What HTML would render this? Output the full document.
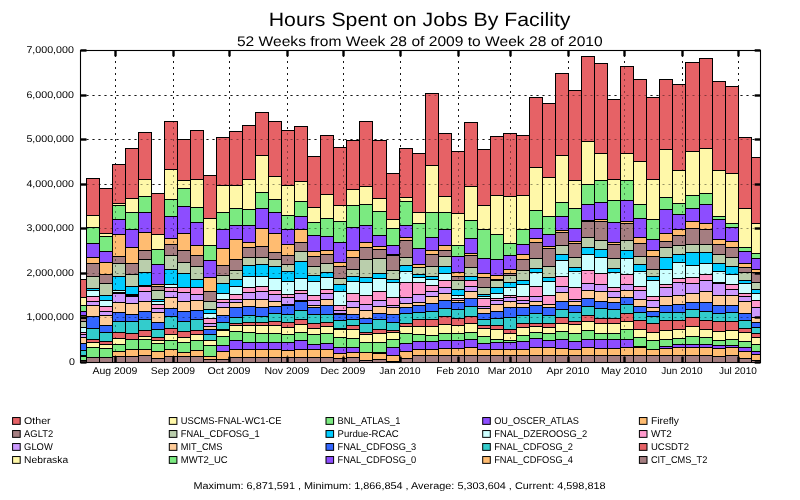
<!DOCTYPE html>
<html><head><meta charset="utf-8"><title>Hours Spent on Jobs By Facility</title>
<style>html,body{margin:0;padding:0;background:#fff;width:800px;height:500px;overflow:hidden}</style></head>
<body>
<svg width="800" height="500" viewBox="0 0 800 500" style="position:absolute;left:0;top:0;will-change:transform;font-family:'Liberation Sans',sans-serif" shape-rendering="auto">
<rect x="0" y="0" width="800" height="500" fill="#fff"/>
<g stroke="#000" stroke-width="1" stroke-dasharray="2,4" fill="none" opacity="0.85">
<line x1="80.5" y1="317.50" x2="760.5" y2="317.50"/>
<line x1="80.5" y1="273.50" x2="760.5" y2="273.50"/>
<line x1="80.5" y1="228.50" x2="760.5" y2="228.50"/>
<line x1="80.5" y1="184.50" x2="760.5" y2="184.50"/>
<line x1="80.5" y1="139.50" x2="760.5" y2="139.50"/>
<line x1="80.5" y1="95.50" x2="760.5" y2="95.50"/>
<line x1="115.50" y1="363.0" x2="115.50" y2="50.5"/>
<line x1="173.50" y1="363.0" x2="173.50" y2="50.5"/>
<line x1="229.50" y1="363.0" x2="229.50" y2="50.5"/>
<line x1="287.50" y1="363.0" x2="287.50" y2="50.5"/>
<line x1="343.50" y1="363.0" x2="343.50" y2="50.5"/>
<line x1="400.50" y1="363.0" x2="400.50" y2="50.5"/>
<line x1="458.50" y1="363.0" x2="458.50" y2="50.5"/>
<line x1="510.50" y1="363.0" x2="510.50" y2="50.5"/>
<line x1="568.50" y1="363.0" x2="568.50" y2="50.5"/>
<line x1="624.50" y1="363.0" x2="624.50" y2="50.5"/>
<line x1="682.50" y1="363.0" x2="682.50" y2="50.5"/>
<line x1="738.50" y1="363.0" x2="738.50" y2="50.5"/>
</g>
<g stroke="#000" stroke-width="1">
<rect x="80.50" y="279.50" width="6.00" height="18.00" fill="#e66266"/>
<rect x="80.50" y="297.50" width="6.00" height="8.00" fill="#fff8a9"/>
<rect x="80.50" y="305.50" width="6.00" height="6.00" fill="#7bea81"/>
<rect x="80.50" y="311.50" width="6.00" height="4.00" fill="#8d4dff"/>
<rect x="80.50" y="315.50" width="6.00" height="3.00" fill="#ffbc71"/>
<rect x="80.50" y="318.50" width="6.00" height="3.00" fill="#a57e81"/>
<rect x="80.50" y="321.50" width="6.00" height="6.00" fill="#baceac"/>
<rect x="80.50" y="327.50" width="6.00" height="5.00" fill="#ccffff"/>
<rect x="80.50" y="332.50" width="6.00" height="2.00" fill="#ff99cc"/>
<rect x="80.50" y="334.50" width="6.00" height="3.00" fill="#cc99ff"/>
<rect x="80.50" y="337.50" width="6.00" height="6.00" fill="#ffcc99"/>
<rect x="80.50" y="343.50" width="6.00" height="7.00" fill="#3366ff"/>
<rect x="80.50" y="350.50" width="6.00" height="5.00" fill="#33cccc"/>
<rect x="80.50" y="355.50" width="6.00" height="1.00" fill="#e66266"/>
<rect x="80.50" y="356.50" width="6.00" height="4.00" fill="#7bea81"/>
<rect x="80.50" y="360.50" width="6.00" height="2.00" fill="#a57e81"/>
<rect x="86.50" y="178.50" width="13.00" height="37.00" fill="#e66266"/>
<rect x="86.50" y="215.50" width="13.00" height="12.00" fill="#fff8a9"/>
<rect x="86.50" y="227.50" width="13.00" height="16.00" fill="#7bea81"/>
<rect x="86.50" y="243.50" width="13.00" height="14.00" fill="#8d4dff"/>
<rect x="86.50" y="257.50" width="13.00" height="6.00" fill="#ffbc71"/>
<rect x="86.50" y="263.50" width="13.00" height="13.00" fill="#a57e81"/>
<rect x="86.50" y="276.50" width="13.00" height="12.00" fill="#baceac"/>
<rect x="86.50" y="288.50" width="13.00" height="2.00" fill="#00ccff"/>
<rect x="86.50" y="290.50" width="13.00" height="6.00" fill="#ccffff"/>
<rect x="86.50" y="296.50" width="13.00" height="5.00" fill="#ff99cc"/>
<rect x="86.50" y="301.50" width="13.00" height="4.00" fill="#cc99ff"/>
<rect x="86.50" y="305.50" width="13.00" height="11.00" fill="#ffcc99"/>
<rect x="86.50" y="316.50" width="13.00" height="12.00" fill="#3366ff"/>
<rect x="86.50" y="328.50" width="13.00" height="11.00" fill="#33cccc"/>
<rect x="86.50" y="339.50" width="13.00" height="3.00" fill="#e66266"/>
<rect x="86.50" y="342.50" width="13.00" height="5.00" fill="#fff8a9"/>
<rect x="86.50" y="347.50" width="13.00" height="10.00" fill="#7bea81"/>
<rect x="86.50" y="357.50" width="13.00" height="5.00" fill="#a57e81"/>
<rect x="99.50" y="188.50" width="13.00" height="45.00" fill="#e66266"/>
<rect x="99.50" y="233.50" width="13.00" height="3.00" fill="#fff8a9"/>
<rect x="99.50" y="236.50" width="13.00" height="15.00" fill="#7bea81"/>
<rect x="99.50" y="251.50" width="13.00" height="11.00" fill="#8d4dff"/>
<rect x="99.50" y="262.50" width="13.00" height="12.00" fill="#ffbc71"/>
<rect x="99.50" y="274.50" width="13.00" height="9.00" fill="#a57e81"/>
<rect x="99.50" y="283.50" width="13.00" height="12.00" fill="#baceac"/>
<rect x="99.50" y="295.50" width="13.00" height="5.00" fill="#00ccff"/>
<rect x="99.50" y="300.50" width="13.00" height="6.00" fill="#ccffff"/>
<rect x="99.50" y="306.50" width="13.00" height="5.00" fill="#ff99cc"/>
<rect x="99.50" y="311.50" width="13.00" height="4.00" fill="#cc99ff"/>
<rect x="99.50" y="315.50" width="13.00" height="10.00" fill="#ffcc99"/>
<rect x="99.50" y="325.50" width="13.00" height="7.00" fill="#3366ff"/>
<rect x="99.50" y="332.50" width="13.00" height="9.00" fill="#33cccc"/>
<rect x="99.50" y="341.50" width="13.00" height="3.00" fill="#e66266"/>
<rect x="99.50" y="344.50" width="13.00" height="4.00" fill="#fff8a9"/>
<rect x="99.50" y="348.50" width="13.00" height="9.00" fill="#7bea81"/>
<rect x="99.50" y="357.50" width="13.00" height="5.00" fill="#a57e81"/>
<rect x="112.50" y="164.50" width="13.00" height="39.00" fill="#e66266"/>
<rect x="112.50" y="203.50" width="13.00" height="2.00" fill="#fff8a9"/>
<rect x="112.50" y="205.50" width="13.00" height="14.00" fill="#7bea81"/>
<rect x="112.50" y="219.50" width="13.00" height="15.00" fill="#8d4dff"/>
<rect x="112.50" y="234.50" width="13.00" height="22.00" fill="#ffbc71"/>
<rect x="112.50" y="256.50" width="13.00" height="7.00" fill="#a57e81"/>
<rect x="112.50" y="263.50" width="13.00" height="13.00" fill="#baceac"/>
<rect x="112.50" y="276.50" width="13.00" height="14.00" fill="#00ccff"/>
<rect x="112.50" y="290.50" width="13.00" height="2.00" fill="#ccffff"/>
<rect x="112.50" y="292.50" width="13.00" height="1.00" fill="#ff99cc"/>
<rect x="112.50" y="293.50" width="13.00" height="9.00" fill="#cc99ff"/>
<rect x="112.50" y="302.50" width="13.00" height="10.00" fill="#ffcc99"/>
<rect x="112.50" y="312.50" width="13.00" height="9.00" fill="#3366ff"/>
<rect x="112.50" y="321.50" width="13.00" height="11.00" fill="#33cccc"/>
<rect x="112.50" y="332.50" width="13.00" height="6.00" fill="#e66266"/>
<rect x="112.50" y="338.50" width="13.00" height="6.00" fill="#fff8a9"/>
<rect x="112.50" y="344.50" width="13.00" height="7.00" fill="#7bea81"/>
<rect x="112.50" y="351.50" width="13.00" height="5.00" fill="#ffbc71"/>
<rect x="112.50" y="356.50" width="13.00" height="6.00" fill="#a57e81"/>
<rect x="125.50" y="148.50" width="13.00" height="50.00" fill="#e66266"/>
<rect x="125.50" y="198.50" width="13.00" height="14.00" fill="#fff8a9"/>
<rect x="125.50" y="212.50" width="13.00" height="17.00" fill="#7bea81"/>
<rect x="125.50" y="229.50" width="13.00" height="18.00" fill="#8d4dff"/>
<rect x="125.50" y="247.50" width="13.00" height="16.00" fill="#ffbc71"/>
<rect x="125.50" y="263.50" width="13.00" height="11.00" fill="#a57e81"/>
<rect x="125.50" y="274.50" width="13.00" height="12.00" fill="#baceac"/>
<rect x="125.50" y="286.50" width="13.00" height="8.00" fill="#00ccff"/>
<rect x="125.50" y="294.50" width="13.00" height="1.00" fill="#ccffff"/>
<rect x="125.50" y="295.50" width="13.00" height="1.00" fill="#ff99cc"/>
<rect x="125.50" y="296.50" width="13.00" height="7.00" fill="#cc99ff"/>
<rect x="125.50" y="303.50" width="13.00" height="11.00" fill="#ffcc99"/>
<rect x="125.50" y="314.50" width="13.00" height="7.00" fill="#3366ff"/>
<rect x="125.50" y="321.50" width="13.00" height="12.00" fill="#33cccc"/>
<rect x="125.50" y="333.50" width="13.00" height="6.00" fill="#e66266"/>
<rect x="125.50" y="339.50" width="13.00" height="10.00" fill="#7bea81"/>
<rect x="125.50" y="349.50" width="13.00" height="7.00" fill="#ffbc71"/>
<rect x="125.50" y="356.50" width="13.00" height="6.00" fill="#a57e81"/>
<rect x="138.50" y="132.50" width="13.00" height="47.00" fill="#e66266"/>
<rect x="138.50" y="179.50" width="13.00" height="17.00" fill="#fff8a9"/>
<rect x="138.50" y="196.50" width="13.00" height="16.00" fill="#7bea81"/>
<rect x="138.50" y="212.50" width="13.00" height="20.00" fill="#8d4dff"/>
<rect x="138.50" y="232.50" width="13.00" height="18.00" fill="#ffbc71"/>
<rect x="138.50" y="250.50" width="13.00" height="9.00" fill="#a57e81"/>
<rect x="138.50" y="259.50" width="13.00" height="13.00" fill="#baceac"/>
<rect x="138.50" y="272.50" width="13.00" height="13.00" fill="#00ccff"/>
<rect x="138.50" y="285.50" width="13.00" height="1.00" fill="#ccffff"/>
<rect x="138.50" y="286.50" width="13.00" height="5.00" fill="#ff99cc"/>
<rect x="138.50" y="291.50" width="13.00" height="10.00" fill="#cc99ff"/>
<rect x="138.50" y="301.50" width="13.00" height="10.00" fill="#ffcc99"/>
<rect x="138.50" y="311.50" width="13.00" height="8.00" fill="#3366ff"/>
<rect x="138.50" y="319.50" width="13.00" height="11.00" fill="#33cccc"/>
<rect x="138.50" y="330.50" width="13.00" height="6.00" fill="#e66266"/>
<rect x="138.50" y="336.50" width="13.00" height="3.00" fill="#fff8a9"/>
<rect x="138.50" y="339.50" width="13.00" height="10.00" fill="#7bea81"/>
<rect x="138.50" y="349.50" width="13.00" height="6.00" fill="#ffbc71"/>
<rect x="138.50" y="355.50" width="13.00" height="7.00" fill="#a57e81"/>
<rect x="151.50" y="193.50" width="13.00" height="41.00" fill="#e66266"/>
<rect x="151.50" y="234.50" width="13.00" height="15.00" fill="#fff8a9"/>
<rect x="151.50" y="249.50" width="13.00" height="15.00" fill="#7bea81"/>
<rect x="151.50" y="264.50" width="13.00" height="20.00" fill="#8d4dff"/>
<rect x="151.50" y="284.50" width="13.00" height="2.00" fill="#ffbc71"/>
<rect x="151.50" y="286.50" width="13.00" height="4.00" fill="#a57e81"/>
<rect x="151.50" y="290.50" width="13.00" height="9.00" fill="#baceac"/>
<rect x="151.50" y="299.50" width="13.00" height="2.00" fill="#00ccff"/>
<rect x="151.50" y="301.50" width="13.00" height="3.00" fill="#ccffff"/>
<rect x="151.50" y="304.50" width="13.00" height="4.00" fill="#ff99cc"/>
<rect x="151.50" y="308.50" width="13.00" height="4.00" fill="#cc99ff"/>
<rect x="151.50" y="312.50" width="13.00" height="10.00" fill="#ffcc99"/>
<rect x="151.50" y="322.50" width="13.00" height="7.00" fill="#3366ff"/>
<rect x="151.50" y="329.50" width="13.00" height="8.00" fill="#33cccc"/>
<rect x="151.50" y="337.50" width="13.00" height="3.00" fill="#e66266"/>
<rect x="151.50" y="340.50" width="13.00" height="3.00" fill="#fff8a9"/>
<rect x="151.50" y="343.50" width="13.00" height="8.00" fill="#7bea81"/>
<rect x="151.50" y="351.50" width="13.00" height="7.00" fill="#ffbc71"/>
<rect x="151.50" y="358.50" width="13.00" height="4.00" fill="#a57e81"/>
<rect x="164.50" y="121.50" width="13.00" height="48.00" fill="#e66266"/>
<rect x="164.50" y="169.50" width="13.00" height="30.00" fill="#fff8a9"/>
<rect x="164.50" y="199.50" width="13.00" height="17.00" fill="#7bea81"/>
<rect x="164.50" y="216.50" width="13.00" height="22.00" fill="#8d4dff"/>
<rect x="164.50" y="238.50" width="13.00" height="6.00" fill="#ffbc71"/>
<rect x="164.50" y="244.50" width="13.00" height="11.00" fill="#a57e81"/>
<rect x="164.50" y="255.50" width="13.00" height="14.00" fill="#baceac"/>
<rect x="164.50" y="269.50" width="13.00" height="15.00" fill="#00ccff"/>
<rect x="164.50" y="284.50" width="13.00" height="3.00" fill="#ccffff"/>
<rect x="164.50" y="287.50" width="13.00" height="4.00" fill="#ff99cc"/>
<rect x="164.50" y="291.50" width="13.00" height="6.00" fill="#cc99ff"/>
<rect x="164.50" y="297.50" width="13.00" height="11.00" fill="#ffcc99"/>
<rect x="164.50" y="308.50" width="13.00" height="8.00" fill="#3366ff"/>
<rect x="164.50" y="316.50" width="13.00" height="12.00" fill="#33cccc"/>
<rect x="164.50" y="328.50" width="13.00" height="6.00" fill="#e66266"/>
<rect x="164.50" y="334.50" width="13.00" height="6.00" fill="#fff8a9"/>
<rect x="164.50" y="340.50" width="13.00" height="9.00" fill="#7bea81"/>
<rect x="164.50" y="349.50" width="13.00" height="7.00" fill="#ffbc71"/>
<rect x="164.50" y="356.50" width="13.00" height="6.00" fill="#a57e81"/>
<rect x="177.50" y="139.50" width="13.00" height="41.00" fill="#e66266"/>
<rect x="177.50" y="180.50" width="13.00" height="8.00" fill="#fff8a9"/>
<rect x="177.50" y="188.50" width="13.00" height="18.00" fill="#7bea81"/>
<rect x="177.50" y="206.50" width="13.00" height="27.00" fill="#8d4dff"/>
<rect x="177.50" y="233.50" width="13.00" height="17.00" fill="#ffbc71"/>
<rect x="177.50" y="250.50" width="13.00" height="12.00" fill="#a57e81"/>
<rect x="177.50" y="262.50" width="13.00" height="11.00" fill="#baceac"/>
<rect x="177.50" y="273.50" width="13.00" height="14.00" fill="#00ccff"/>
<rect x="177.50" y="287.50" width="13.00" height="5.00" fill="#ff99cc"/>
<rect x="177.50" y="292.50" width="13.00" height="9.00" fill="#cc99ff"/>
<rect x="177.50" y="301.50" width="13.00" height="10.00" fill="#ffcc99"/>
<rect x="177.50" y="311.50" width="13.00" height="10.00" fill="#3366ff"/>
<rect x="177.50" y="321.50" width="13.00" height="10.00" fill="#33cccc"/>
<rect x="177.50" y="331.50" width="13.00" height="6.00" fill="#e66266"/>
<rect x="177.50" y="337.50" width="13.00" height="5.00" fill="#fff8a9"/>
<rect x="177.50" y="342.50" width="13.00" height="10.00" fill="#7bea81"/>
<rect x="177.50" y="352.50" width="13.00" height="4.00" fill="#ffbc71"/>
<rect x="177.50" y="356.50" width="13.00" height="6.00" fill="#a57e81"/>
<rect x="190.50" y="130.50" width="13.00" height="49.00" fill="#e66266"/>
<rect x="190.50" y="179.50" width="13.00" height="28.00" fill="#fff8a9"/>
<rect x="190.50" y="207.50" width="13.00" height="15.00" fill="#7bea81"/>
<rect x="190.50" y="222.50" width="13.00" height="23.00" fill="#8d4dff"/>
<rect x="190.50" y="245.50" width="13.00" height="10.00" fill="#ffbc71"/>
<rect x="190.50" y="255.50" width="13.00" height="11.00" fill="#a57e81"/>
<rect x="190.50" y="266.50" width="13.00" height="13.00" fill="#baceac"/>
<rect x="190.50" y="279.50" width="13.00" height="8.00" fill="#00ccff"/>
<rect x="190.50" y="287.50" width="13.00" height="7.00" fill="#ff99cc"/>
<rect x="190.50" y="294.50" width="13.00" height="6.00" fill="#cc99ff"/>
<rect x="190.50" y="300.50" width="13.00" height="10.00" fill="#ffcc99"/>
<rect x="190.50" y="310.50" width="13.00" height="9.00" fill="#3366ff"/>
<rect x="190.50" y="319.50" width="13.00" height="11.00" fill="#33cccc"/>
<rect x="190.50" y="330.50" width="13.00" height="4.00" fill="#e66266"/>
<rect x="190.50" y="334.50" width="13.00" height="6.00" fill="#fff8a9"/>
<rect x="190.50" y="340.50" width="13.00" height="10.00" fill="#7bea81"/>
<rect x="190.50" y="350.50" width="13.00" height="6.00" fill="#ffbc71"/>
<rect x="190.50" y="356.50" width="13.00" height="6.00" fill="#a57e81"/>
<rect x="203.50" y="175.50" width="13.00" height="43.00" fill="#e66266"/>
<rect x="203.50" y="218.50" width="13.00" height="27.00" fill="#fff8a9"/>
<rect x="203.50" y="245.50" width="13.00" height="15.00" fill="#7bea81"/>
<rect x="203.50" y="260.50" width="13.00" height="17.00" fill="#8d4dff"/>
<rect x="203.50" y="277.50" width="13.00" height="14.00" fill="#ffbc71"/>
<rect x="203.50" y="291.50" width="13.00" height="10.00" fill="#a57e81"/>
<rect x="203.50" y="301.50" width="13.00" height="8.00" fill="#baceac"/>
<rect x="203.50" y="309.50" width="13.00" height="4.00" fill="#00ccff"/>
<rect x="203.50" y="313.50" width="13.00" height="5.00" fill="#ccffff"/>
<rect x="203.50" y="318.50" width="13.00" height="5.00" fill="#ff99cc"/>
<rect x="203.50" y="323.50" width="13.00" height="3.00" fill="#cc99ff"/>
<rect x="203.50" y="326.50" width="13.00" height="3.00" fill="#ffcc99"/>
<rect x="203.50" y="329.50" width="13.00" height="5.00" fill="#3366ff"/>
<rect x="203.50" y="334.50" width="13.00" height="6.00" fill="#33cccc"/>
<rect x="203.50" y="340.50" width="13.00" height="5.00" fill="#fff8a9"/>
<rect x="203.50" y="345.50" width="13.00" height="11.00" fill="#7bea81"/>
<rect x="203.50" y="356.50" width="13.00" height="3.00" fill="#ffbc71"/>
<rect x="203.50" y="359.50" width="13.00" height="3.00" fill="#a57e81"/>
<rect x="216.50" y="137.50" width="13.00" height="48.00" fill="#e66266"/>
<rect x="216.50" y="185.50" width="13.00" height="27.00" fill="#fff8a9"/>
<rect x="216.50" y="212.50" width="13.00" height="17.00" fill="#7bea81"/>
<rect x="216.50" y="229.50" width="13.00" height="19.00" fill="#8d4dff"/>
<rect x="216.50" y="248.50" width="13.00" height="17.00" fill="#ffbc71"/>
<rect x="216.50" y="265.50" width="13.00" height="10.00" fill="#a57e81"/>
<rect x="216.50" y="275.50" width="13.00" height="8.00" fill="#baceac"/>
<rect x="216.50" y="283.50" width="13.00" height="10.00" fill="#00ccff"/>
<rect x="216.50" y="293.50" width="13.00" height="6.00" fill="#ccffff"/>
<rect x="216.50" y="299.50" width="13.00" height="3.00" fill="#ff99cc"/>
<rect x="216.50" y="302.50" width="13.00" height="5.00" fill="#cc99ff"/>
<rect x="216.50" y="307.50" width="13.00" height="8.00" fill="#ffcc99"/>
<rect x="216.50" y="315.50" width="13.00" height="7.00" fill="#3366ff"/>
<rect x="216.50" y="322.50" width="13.00" height="7.00" fill="#33cccc"/>
<rect x="216.50" y="329.50" width="13.00" height="1.00" fill="#e66266"/>
<rect x="216.50" y="330.50" width="13.00" height="6.00" fill="#fff8a9"/>
<rect x="216.50" y="336.50" width="13.00" height="9.00" fill="#7bea81"/>
<rect x="216.50" y="345.50" width="13.00" height="6.00" fill="#8d4dff"/>
<rect x="216.50" y="351.50" width="13.00" height="8.00" fill="#ffbc71"/>
<rect x="216.50" y="359.50" width="13.00" height="3.00" fill="#a57e81"/>
<rect x="229.50" y="131.50" width="13.00" height="54.00" fill="#e66266"/>
<rect x="229.50" y="185.50" width="13.00" height="23.00" fill="#fff8a9"/>
<rect x="229.50" y="208.50" width="13.00" height="17.00" fill="#7bea81"/>
<rect x="229.50" y="225.50" width="13.00" height="14.00" fill="#8d4dff"/>
<rect x="229.50" y="239.50" width="13.00" height="20.00" fill="#ffbc71"/>
<rect x="229.50" y="259.50" width="13.00" height="11.00" fill="#a57e81"/>
<rect x="229.50" y="270.50" width="13.00" height="9.00" fill="#baceac"/>
<rect x="229.50" y="279.50" width="13.00" height="7.00" fill="#00ccff"/>
<rect x="229.50" y="286.50" width="13.00" height="8.00" fill="#ccffff"/>
<rect x="229.50" y="294.50" width="13.00" height="5.00" fill="#ff99cc"/>
<rect x="229.50" y="299.50" width="13.00" height="3.00" fill="#cc99ff"/>
<rect x="229.50" y="302.50" width="13.00" height="5.00" fill="#ffcc99"/>
<rect x="229.50" y="307.50" width="13.00" height="10.00" fill="#3366ff"/>
<rect x="229.50" y="317.50" width="13.00" height="6.00" fill="#33cccc"/>
<rect x="229.50" y="323.50" width="13.00" height="2.00" fill="#e66266"/>
<rect x="229.50" y="325.50" width="13.00" height="6.00" fill="#fff8a9"/>
<rect x="229.50" y="331.50" width="13.00" height="9.00" fill="#7bea81"/>
<rect x="229.50" y="340.50" width="13.00" height="9.00" fill="#8d4dff"/>
<rect x="229.50" y="349.50" width="13.00" height="8.00" fill="#ffbc71"/>
<rect x="229.50" y="357.50" width="13.00" height="5.00" fill="#a57e81"/>
<rect x="242.50" y="125.50" width="13.00" height="54.00" fill="#e66266"/>
<rect x="242.50" y="179.50" width="13.00" height="30.00" fill="#fff8a9"/>
<rect x="242.50" y="209.50" width="13.00" height="16.00" fill="#7bea81"/>
<rect x="242.50" y="225.50" width="13.00" height="17.00" fill="#8d4dff"/>
<rect x="242.50" y="242.50" width="13.00" height="5.00" fill="#ffbc71"/>
<rect x="242.50" y="247.50" width="13.00" height="10.00" fill="#a57e81"/>
<rect x="242.50" y="257.50" width="13.00" height="8.00" fill="#baceac"/>
<rect x="242.50" y="265.50" width="13.00" height="11.00" fill="#00ccff"/>
<rect x="242.50" y="276.50" width="13.00" height="11.00" fill="#ccffff"/>
<rect x="242.50" y="287.50" width="13.00" height="5.00" fill="#ff99cc"/>
<rect x="242.50" y="292.50" width="13.00" height="7.00" fill="#cc99ff"/>
<rect x="242.50" y="299.50" width="13.00" height="7.00" fill="#ffcc99"/>
<rect x="242.50" y="306.50" width="13.00" height="9.00" fill="#3366ff"/>
<rect x="242.50" y="315.50" width="13.00" height="7.00" fill="#33cccc"/>
<rect x="242.50" y="322.50" width="13.00" height="3.00" fill="#e66266"/>
<rect x="242.50" y="325.50" width="13.00" height="7.00" fill="#fff8a9"/>
<rect x="242.50" y="332.50" width="13.00" height="10.00" fill="#7bea81"/>
<rect x="242.50" y="342.50" width="13.00" height="7.00" fill="#8d4dff"/>
<rect x="242.50" y="349.50" width="13.00" height="8.00" fill="#ffbc71"/>
<rect x="242.50" y="357.50" width="13.00" height="5.00" fill="#a57e81"/>
<rect x="255.50" y="112.50" width="13.00" height="43.00" fill="#e66266"/>
<rect x="255.50" y="155.50" width="13.00" height="37.00" fill="#fff8a9"/>
<rect x="255.50" y="192.50" width="13.00" height="16.00" fill="#7bea81"/>
<rect x="255.50" y="208.50" width="13.00" height="20.00" fill="#8d4dff"/>
<rect x="255.50" y="228.50" width="13.00" height="18.00" fill="#ffbc71"/>
<rect x="255.50" y="246.50" width="13.00" height="11.00" fill="#a57e81"/>
<rect x="255.50" y="257.50" width="13.00" height="7.00" fill="#baceac"/>
<rect x="255.50" y="264.50" width="13.00" height="12.00" fill="#00ccff"/>
<rect x="255.50" y="276.50" width="13.00" height="10.00" fill="#ccffff"/>
<rect x="255.50" y="286.50" width="13.00" height="5.00" fill="#ff99cc"/>
<rect x="255.50" y="291.50" width="13.00" height="8.00" fill="#cc99ff"/>
<rect x="255.50" y="299.50" width="13.00" height="8.00" fill="#ffcc99"/>
<rect x="255.50" y="307.50" width="13.00" height="9.00" fill="#3366ff"/>
<rect x="255.50" y="316.50" width="13.00" height="6.00" fill="#33cccc"/>
<rect x="255.50" y="322.50" width="13.00" height="3.00" fill="#e66266"/>
<rect x="255.50" y="325.50" width="13.00" height="8.00" fill="#fff8a9"/>
<rect x="255.50" y="333.50" width="13.00" height="9.00" fill="#7bea81"/>
<rect x="255.50" y="342.50" width="13.00" height="7.00" fill="#8d4dff"/>
<rect x="255.50" y="349.50" width="13.00" height="8.00" fill="#ffbc71"/>
<rect x="255.50" y="357.50" width="13.00" height="5.00" fill="#a57e81"/>
<rect x="268.50" y="121.50" width="13.00" height="55.00" fill="#e66266"/>
<rect x="268.50" y="176.50" width="13.00" height="23.00" fill="#fff8a9"/>
<rect x="268.50" y="199.50" width="13.00" height="13.00" fill="#7bea81"/>
<rect x="268.50" y="212.50" width="13.00" height="21.00" fill="#8d4dff"/>
<rect x="268.50" y="233.50" width="13.00" height="19.00" fill="#ffbc71"/>
<rect x="268.50" y="252.50" width="13.00" height="7.00" fill="#a57e81"/>
<rect x="268.50" y="259.50" width="13.00" height="7.00" fill="#baceac"/>
<rect x="268.50" y="266.50" width="13.00" height="12.00" fill="#00ccff"/>
<rect x="268.50" y="278.50" width="13.00" height="12.00" fill="#ccffff"/>
<rect x="268.50" y="290.50" width="13.00" height="4.00" fill="#ff99cc"/>
<rect x="268.50" y="294.50" width="13.00" height="7.00" fill="#cc99ff"/>
<rect x="268.50" y="301.50" width="13.00" height="5.00" fill="#ffcc99"/>
<rect x="268.50" y="306.50" width="13.00" height="7.00" fill="#3366ff"/>
<rect x="268.50" y="313.50" width="13.00" height="8.00" fill="#33cccc"/>
<rect x="268.50" y="321.50" width="13.00" height="4.00" fill="#e66266"/>
<rect x="268.50" y="325.50" width="13.00" height="8.00" fill="#fff8a9"/>
<rect x="268.50" y="333.50" width="13.00" height="9.00" fill="#7bea81"/>
<rect x="268.50" y="342.50" width="13.00" height="7.00" fill="#8d4dff"/>
<rect x="268.50" y="349.50" width="13.00" height="8.00" fill="#ffbc71"/>
<rect x="268.50" y="357.50" width="13.00" height="5.00" fill="#a57e81"/>
<rect x="281.50" y="130.50" width="13.00" height="55.00" fill="#e66266"/>
<rect x="281.50" y="185.50" width="13.00" height="30.00" fill="#fff8a9"/>
<rect x="281.50" y="215.50" width="13.00" height="14.00" fill="#7bea81"/>
<rect x="281.50" y="229.50" width="13.00" height="15.00" fill="#8d4dff"/>
<rect x="281.50" y="244.50" width="13.00" height="11.00" fill="#ffbc71"/>
<rect x="281.50" y="255.50" width="13.00" height="9.00" fill="#a57e81"/>
<rect x="281.50" y="264.50" width="13.00" height="7.00" fill="#baceac"/>
<rect x="281.50" y="271.50" width="13.00" height="10.00" fill="#00ccff"/>
<rect x="281.50" y="281.50" width="13.00" height="13.00" fill="#ccffff"/>
<rect x="281.50" y="294.50" width="13.00" height="3.00" fill="#ff99cc"/>
<rect x="281.50" y="297.50" width="13.00" height="7.00" fill="#cc99ff"/>
<rect x="281.50" y="304.50" width="13.00" height="1.00" fill="#ffcc99"/>
<rect x="281.50" y="305.50" width="13.00" height="9.00" fill="#3366ff"/>
<rect x="281.50" y="314.50" width="13.00" height="8.00" fill="#33cccc"/>
<rect x="281.50" y="322.50" width="13.00" height="5.00" fill="#e66266"/>
<rect x="281.50" y="327.50" width="13.00" height="7.00" fill="#fff8a9"/>
<rect x="281.50" y="334.50" width="13.00" height="8.00" fill="#7bea81"/>
<rect x="281.50" y="342.50" width="13.00" height="8.00" fill="#8d4dff"/>
<rect x="281.50" y="350.50" width="13.00" height="7.00" fill="#ffbc71"/>
<rect x="281.50" y="357.50" width="13.00" height="5.00" fill="#a57e81"/>
<rect x="294.50" y="126.50" width="13.00" height="55.00" fill="#e66266"/>
<rect x="294.50" y="181.50" width="13.00" height="20.00" fill="#fff8a9"/>
<rect x="294.50" y="201.50" width="13.00" height="15.00" fill="#7bea81"/>
<rect x="294.50" y="216.50" width="13.00" height="13.00" fill="#8d4dff"/>
<rect x="294.50" y="229.50" width="13.00" height="13.00" fill="#ffbc71"/>
<rect x="294.50" y="242.50" width="13.00" height="9.00" fill="#a57e81"/>
<rect x="294.50" y="251.50" width="13.00" height="10.00" fill="#baceac"/>
<rect x="294.50" y="261.50" width="13.00" height="17.00" fill="#00ccff"/>
<rect x="294.50" y="278.50" width="13.00" height="12.00" fill="#ccffff"/>
<rect x="294.50" y="290.50" width="13.00" height="3.00" fill="#ff99cc"/>
<rect x="294.50" y="293.50" width="13.00" height="7.00" fill="#cc99ff"/>
<rect x="294.50" y="300.50" width="13.00" height="1.00" fill="#ffcc99"/>
<rect x="294.50" y="301.50" width="13.00" height="9.00" fill="#3366ff"/>
<rect x="294.50" y="310.50" width="13.00" height="9.00" fill="#33cccc"/>
<rect x="294.50" y="319.50" width="13.00" height="5.00" fill="#e66266"/>
<rect x="294.50" y="324.50" width="13.00" height="8.00" fill="#fff8a9"/>
<rect x="294.50" y="332.50" width="13.00" height="8.00" fill="#7bea81"/>
<rect x="294.50" y="340.50" width="13.00" height="9.00" fill="#8d4dff"/>
<rect x="294.50" y="349.50" width="13.00" height="8.00" fill="#ffbc71"/>
<rect x="294.50" y="357.50" width="13.00" height="5.00" fill="#a57e81"/>
<rect x="307.50" y="156.50" width="13.00" height="51.00" fill="#e66266"/>
<rect x="307.50" y="207.50" width="13.00" height="15.00" fill="#fff8a9"/>
<rect x="307.50" y="222.50" width="13.00" height="13.00" fill="#7bea81"/>
<rect x="307.50" y="235.50" width="13.00" height="16.00" fill="#8d4dff"/>
<rect x="307.50" y="251.50" width="13.00" height="5.00" fill="#ffbc71"/>
<rect x="307.50" y="256.50" width="13.00" height="10.00" fill="#a57e81"/>
<rect x="307.50" y="266.50" width="13.00" height="9.00" fill="#baceac"/>
<rect x="307.50" y="275.50" width="13.00" height="6.00" fill="#00ccff"/>
<rect x="307.50" y="281.50" width="13.00" height="14.00" fill="#ccffff"/>
<rect x="307.50" y="295.50" width="13.00" height="5.00" fill="#ff99cc"/>
<rect x="307.50" y="300.50" width="13.00" height="5.00" fill="#cc99ff"/>
<rect x="307.50" y="305.50" width="13.00" height="2.00" fill="#ffcc99"/>
<rect x="307.50" y="307.50" width="13.00" height="7.00" fill="#3366ff"/>
<rect x="307.50" y="314.50" width="13.00" height="9.00" fill="#33cccc"/>
<rect x="307.50" y="323.50" width="13.00" height="5.00" fill="#e66266"/>
<rect x="307.50" y="328.50" width="13.00" height="6.00" fill="#fff8a9"/>
<rect x="307.50" y="334.50" width="13.00" height="10.00" fill="#7bea81"/>
<rect x="307.50" y="344.50" width="13.00" height="5.00" fill="#8d4dff"/>
<rect x="307.50" y="349.50" width="13.00" height="8.00" fill="#ffbc71"/>
<rect x="307.50" y="357.50" width="13.00" height="5.00" fill="#a57e81"/>
<rect x="320.50" y="135.50" width="13.00" height="59.00" fill="#e66266"/>
<rect x="320.50" y="194.50" width="13.00" height="24.00" fill="#fff8a9"/>
<rect x="320.50" y="218.50" width="13.00" height="18.00" fill="#7bea81"/>
<rect x="320.50" y="236.50" width="13.00" height="14.00" fill="#8d4dff"/>
<rect x="320.50" y="250.50" width="13.00" height="4.00" fill="#ffbc71"/>
<rect x="320.50" y="254.50" width="13.00" height="9.00" fill="#a57e81"/>
<rect x="320.50" y="263.50" width="13.00" height="9.00" fill="#baceac"/>
<rect x="320.50" y="272.50" width="13.00" height="5.00" fill="#00ccff"/>
<rect x="320.50" y="277.50" width="13.00" height="12.00" fill="#ccffff"/>
<rect x="320.50" y="289.50" width="13.00" height="4.00" fill="#ff99cc"/>
<rect x="320.50" y="293.50" width="13.00" height="6.00" fill="#cc99ff"/>
<rect x="320.50" y="299.50" width="13.00" height="6.00" fill="#ffcc99"/>
<rect x="320.50" y="305.50" width="13.00" height="9.00" fill="#3366ff"/>
<rect x="320.50" y="314.50" width="13.00" height="8.00" fill="#33cccc"/>
<rect x="320.50" y="322.50" width="13.00" height="4.00" fill="#e66266"/>
<rect x="320.50" y="326.50" width="13.00" height="7.00" fill="#fff8a9"/>
<rect x="320.50" y="333.50" width="13.00" height="10.00" fill="#7bea81"/>
<rect x="320.50" y="343.50" width="13.00" height="6.00" fill="#8d4dff"/>
<rect x="320.50" y="349.50" width="13.00" height="8.00" fill="#ffbc71"/>
<rect x="320.50" y="357.50" width="13.00" height="5.00" fill="#a57e81"/>
<rect x="333.50" y="147.50" width="13.00" height="58.00" fill="#e66266"/>
<rect x="333.50" y="205.50" width="13.00" height="16.00" fill="#fff8a9"/>
<rect x="333.50" y="221.50" width="13.00" height="21.00" fill="#7bea81"/>
<rect x="333.50" y="242.50" width="13.00" height="20.00" fill="#8d4dff"/>
<rect x="333.50" y="262.50" width="13.00" height="4.00" fill="#ffbc71"/>
<rect x="333.50" y="266.50" width="13.00" height="12.00" fill="#a57e81"/>
<rect x="333.50" y="278.50" width="13.00" height="6.00" fill="#baceac"/>
<rect x="333.50" y="284.50" width="13.00" height="7.00" fill="#00ccff"/>
<rect x="333.50" y="291.50" width="13.00" height="14.00" fill="#ccffff"/>
<rect x="333.50" y="305.50" width="13.00" height="5.00" fill="#ff99cc"/>
<rect x="333.50" y="310.50" width="13.00" height="3.00" fill="#cc99ff"/>
<rect x="333.50" y="313.50" width="13.00" height="1.00" fill="#ffcc99"/>
<rect x="333.50" y="314.50" width="13.00" height="6.00" fill="#3366ff"/>
<rect x="333.50" y="320.50" width="13.00" height="8.00" fill="#33cccc"/>
<rect x="333.50" y="328.50" width="13.00" height="1.00" fill="#e66266"/>
<rect x="333.50" y="329.50" width="13.00" height="8.00" fill="#fff8a9"/>
<rect x="333.50" y="337.50" width="13.00" height="10.00" fill="#7bea81"/>
<rect x="333.50" y="347.50" width="13.00" height="6.00" fill="#8d4dff"/>
<rect x="333.50" y="353.50" width="13.00" height="5.00" fill="#ffbc71"/>
<rect x="333.50" y="358.50" width="13.00" height="4.00" fill="#a57e81"/>
<rect x="346.50" y="140.50" width="13.00" height="49.00" fill="#e66266"/>
<rect x="346.50" y="189.50" width="13.00" height="16.00" fill="#fff8a9"/>
<rect x="346.50" y="205.50" width="13.00" height="22.00" fill="#7bea81"/>
<rect x="346.50" y="227.50" width="13.00" height="23.00" fill="#8d4dff"/>
<rect x="346.50" y="250.50" width="13.00" height="7.00" fill="#ffbc71"/>
<rect x="346.50" y="257.50" width="13.00" height="12.00" fill="#a57e81"/>
<rect x="346.50" y="269.50" width="13.00" height="7.00" fill="#baceac"/>
<rect x="346.50" y="276.50" width="13.00" height="5.00" fill="#00ccff"/>
<rect x="346.50" y="281.50" width="13.00" height="12.00" fill="#ccffff"/>
<rect x="346.50" y="293.50" width="13.00" height="8.00" fill="#ff99cc"/>
<rect x="346.50" y="301.50" width="13.00" height="6.00" fill="#cc99ff"/>
<rect x="346.50" y="307.50" width="13.00" height="7.00" fill="#ffcc99"/>
<rect x="346.50" y="314.50" width="13.00" height="5.00" fill="#3366ff"/>
<rect x="346.50" y="319.50" width="13.00" height="6.00" fill="#33cccc"/>
<rect x="346.50" y="325.50" width="13.00" height="4.00" fill="#e66266"/>
<rect x="346.50" y="329.50" width="13.00" height="9.00" fill="#fff8a9"/>
<rect x="346.50" y="338.50" width="13.00" height="9.00" fill="#7bea81"/>
<rect x="346.50" y="347.50" width="13.00" height="5.00" fill="#8d4dff"/>
<rect x="346.50" y="352.50" width="13.00" height="5.00" fill="#ffbc71"/>
<rect x="346.50" y="357.50" width="13.00" height="5.00" fill="#a57e81"/>
<rect x="359.50" y="121.50" width="13.00" height="65.00" fill="#e66266"/>
<rect x="359.50" y="186.50" width="13.00" height="18.00" fill="#fff8a9"/>
<rect x="359.50" y="204.50" width="13.00" height="21.00" fill="#7bea81"/>
<rect x="359.50" y="225.50" width="13.00" height="17.00" fill="#8d4dff"/>
<rect x="359.50" y="242.50" width="13.00" height="5.00" fill="#ffbc71"/>
<rect x="359.50" y="247.50" width="13.00" height="12.00" fill="#a57e81"/>
<rect x="359.50" y="259.50" width="13.00" height="18.00" fill="#baceac"/>
<rect x="359.50" y="277.50" width="13.00" height="5.00" fill="#00ccff"/>
<rect x="359.50" y="282.50" width="13.00" height="13.00" fill="#ccffff"/>
<rect x="359.50" y="295.50" width="13.00" height="9.00" fill="#ff99cc"/>
<rect x="359.50" y="304.50" width="13.00" height="6.00" fill="#cc99ff"/>
<rect x="359.50" y="310.50" width="13.00" height="8.00" fill="#ffcc99"/>
<rect x="359.50" y="318.50" width="13.00" height="5.00" fill="#3366ff"/>
<rect x="359.50" y="323.50" width="13.00" height="9.00" fill="#33cccc"/>
<rect x="359.50" y="332.50" width="13.00" height="2.00" fill="#e66266"/>
<rect x="359.50" y="334.50" width="13.00" height="8.00" fill="#fff8a9"/>
<rect x="359.50" y="342.50" width="13.00" height="10.00" fill="#7bea81"/>
<rect x="359.50" y="352.50" width="13.00" height="8.00" fill="#ffbc71"/>
<rect x="359.50" y="360.50" width="13.00" height="2.00" fill="#a57e81"/>
<rect x="372.50" y="140.50" width="14.00" height="58.00" fill="#e66266"/>
<rect x="372.50" y="198.50" width="14.00" height="13.00" fill="#fff8a9"/>
<rect x="372.50" y="211.50" width="14.00" height="24.00" fill="#7bea81"/>
<rect x="372.50" y="235.50" width="14.00" height="11.00" fill="#8d4dff"/>
<rect x="372.50" y="246.50" width="14.00" height="3.00" fill="#ffbc71"/>
<rect x="372.50" y="249.50" width="14.00" height="9.00" fill="#a57e81"/>
<rect x="372.50" y="258.50" width="14.00" height="15.00" fill="#baceac"/>
<rect x="372.50" y="273.50" width="14.00" height="5.00" fill="#00ccff"/>
<rect x="372.50" y="278.50" width="14.00" height="13.00" fill="#ccffff"/>
<rect x="372.50" y="291.50" width="14.00" height="9.00" fill="#ff99cc"/>
<rect x="372.50" y="300.50" width="14.00" height="6.00" fill="#cc99ff"/>
<rect x="372.50" y="306.50" width="14.00" height="7.00" fill="#ffcc99"/>
<rect x="372.50" y="313.50" width="14.00" height="6.00" fill="#3366ff"/>
<rect x="372.50" y="319.50" width="14.00" height="10.00" fill="#33cccc"/>
<rect x="372.50" y="329.50" width="14.00" height="4.00" fill="#e66266"/>
<rect x="372.50" y="333.50" width="14.00" height="9.00" fill="#fff8a9"/>
<rect x="372.50" y="342.50" width="14.00" height="10.00" fill="#7bea81"/>
<rect x="372.50" y="352.50" width="14.00" height="1.00" fill="#8d4dff"/>
<rect x="372.50" y="353.50" width="14.00" height="6.00" fill="#ffbc71"/>
<rect x="372.50" y="359.50" width="14.00" height="3.00" fill="#a57e81"/>
<rect x="386.50" y="173.50" width="13.00" height="46.00" fill="#e66266"/>
<rect x="386.50" y="219.50" width="13.00" height="9.00" fill="#fff8a9"/>
<rect x="386.50" y="228.50" width="13.00" height="17.00" fill="#7bea81"/>
<rect x="386.50" y="245.50" width="13.00" height="9.00" fill="#8d4dff"/>
<rect x="386.50" y="254.50" width="13.00" height="1.00" fill="#ffbc71"/>
<rect x="386.50" y="255.50" width="13.00" height="15.00" fill="#a57e81"/>
<rect x="386.50" y="270.50" width="13.00" height="9.00" fill="#baceac"/>
<rect x="386.50" y="279.50" width="13.00" height="3.00" fill="#00ccff"/>
<rect x="386.50" y="282.50" width="13.00" height="15.00" fill="#ccffff"/>
<rect x="386.50" y="297.50" width="13.00" height="8.00" fill="#ff99cc"/>
<rect x="386.50" y="305.50" width="13.00" height="2.00" fill="#cc99ff"/>
<rect x="386.50" y="307.50" width="13.00" height="7.00" fill="#ffcc99"/>
<rect x="386.50" y="314.50" width="13.00" height="8.00" fill="#3366ff"/>
<rect x="386.50" y="322.50" width="13.00" height="8.00" fill="#33cccc"/>
<rect x="386.50" y="330.50" width="13.00" height="2.00" fill="#e66266"/>
<rect x="386.50" y="332.50" width="13.00" height="7.00" fill="#fff8a9"/>
<rect x="386.50" y="339.50" width="13.00" height="8.00" fill="#7bea81"/>
<rect x="386.50" y="347.50" width="13.00" height="8.00" fill="#8d4dff"/>
<rect x="386.50" y="355.50" width="13.00" height="6.00" fill="#ffbc71"/>
<rect x="386.50" y="361.50" width="13.00" height="1.00" fill="#a57e81"/>
<rect x="399.50" y="148.50" width="13.00" height="49.00" fill="#e66266"/>
<rect x="399.50" y="197.50" width="13.00" height="4.00" fill="#fff8a9"/>
<rect x="399.50" y="201.50" width="13.00" height="24.00" fill="#7bea81"/>
<rect x="399.50" y="225.50" width="13.00" height="12.00" fill="#8d4dff"/>
<rect x="399.50" y="237.50" width="13.00" height="3.00" fill="#ffbc71"/>
<rect x="399.50" y="240.50" width="13.00" height="17.00" fill="#a57e81"/>
<rect x="399.50" y="257.50" width="13.00" height="8.00" fill="#baceac"/>
<rect x="399.50" y="265.50" width="13.00" height="6.00" fill="#00ccff"/>
<rect x="399.50" y="271.50" width="13.00" height="11.00" fill="#ccffff"/>
<rect x="399.50" y="282.50" width="13.00" height="15.00" fill="#ff99cc"/>
<rect x="399.50" y="297.50" width="13.00" height="6.00" fill="#cc99ff"/>
<rect x="399.50" y="303.50" width="13.00" height="4.00" fill="#ffcc99"/>
<rect x="399.50" y="307.50" width="13.00" height="6.00" fill="#3366ff"/>
<rect x="399.50" y="313.50" width="13.00" height="10.00" fill="#33cccc"/>
<rect x="399.50" y="323.50" width="13.00" height="3.00" fill="#e66266"/>
<rect x="399.50" y="326.50" width="13.00" height="7.00" fill="#fff8a9"/>
<rect x="399.50" y="333.50" width="13.00" height="10.00" fill="#7bea81"/>
<rect x="399.50" y="343.50" width="13.00" height="8.00" fill="#8d4dff"/>
<rect x="399.50" y="351.50" width="13.00" height="7.00" fill="#ffbc71"/>
<rect x="399.50" y="358.50" width="13.00" height="4.00" fill="#a57e81"/>
<rect x="412.50" y="153.50" width="13.00" height="59.00" fill="#e66266"/>
<rect x="412.50" y="212.50" width="13.00" height="11.00" fill="#fff8a9"/>
<rect x="412.50" y="223.50" width="13.00" height="25.00" fill="#7bea81"/>
<rect x="412.50" y="248.50" width="13.00" height="16.00" fill="#8d4dff"/>
<rect x="412.50" y="264.50" width="13.00" height="3.00" fill="#ffbc71"/>
<rect x="412.50" y="267.50" width="13.00" height="7.00" fill="#baceac"/>
<rect x="412.50" y="274.50" width="13.00" height="3.00" fill="#00ccff"/>
<rect x="412.50" y="277.50" width="13.00" height="5.00" fill="#ccffff"/>
<rect x="412.50" y="282.50" width="13.00" height="12.00" fill="#ff99cc"/>
<rect x="412.50" y="294.50" width="13.00" height="8.00" fill="#cc99ff"/>
<rect x="412.50" y="302.50" width="13.00" height="3.00" fill="#ffcc99"/>
<rect x="412.50" y="305.50" width="13.00" height="7.00" fill="#3366ff"/>
<rect x="412.50" y="312.50" width="13.00" height="7.00" fill="#33cccc"/>
<rect x="412.50" y="319.50" width="13.00" height="7.00" fill="#e66266"/>
<rect x="412.50" y="326.50" width="13.00" height="8.00" fill="#fff8a9"/>
<rect x="412.50" y="334.50" width="13.00" height="7.00" fill="#7bea81"/>
<rect x="412.50" y="341.50" width="13.00" height="8.00" fill="#8d4dff"/>
<rect x="412.50" y="349.50" width="13.00" height="6.00" fill="#ffbc71"/>
<rect x="412.50" y="355.50" width="13.00" height="7.00" fill="#a57e81"/>
<rect x="425.50" y="93.50" width="13.00" height="72.00" fill="#e66266"/>
<rect x="425.50" y="165.50" width="13.00" height="47.00" fill="#fff8a9"/>
<rect x="425.50" y="212.50" width="13.00" height="25.00" fill="#7bea81"/>
<rect x="425.50" y="237.50" width="13.00" height="13.00" fill="#8d4dff"/>
<rect x="425.50" y="250.50" width="13.00" height="4.00" fill="#ffbc71"/>
<rect x="425.50" y="254.50" width="13.00" height="12.00" fill="#a57e81"/>
<rect x="425.50" y="266.50" width="13.00" height="10.00" fill="#baceac"/>
<rect x="425.50" y="276.50" width="13.00" height="3.00" fill="#00ccff"/>
<rect x="425.50" y="279.50" width="13.00" height="6.00" fill="#ccffff"/>
<rect x="425.50" y="285.50" width="13.00" height="6.00" fill="#ff99cc"/>
<rect x="425.50" y="291.50" width="13.00" height="5.00" fill="#cc99ff"/>
<rect x="425.50" y="296.50" width="13.00" height="7.00" fill="#ffcc99"/>
<rect x="425.50" y="303.50" width="13.00" height="8.00" fill="#3366ff"/>
<rect x="425.50" y="311.50" width="13.00" height="8.00" fill="#33cccc"/>
<rect x="425.50" y="319.50" width="13.00" height="7.00" fill="#e66266"/>
<rect x="425.50" y="326.50" width="13.00" height="9.00" fill="#fff8a9"/>
<rect x="425.50" y="335.50" width="13.00" height="6.00" fill="#7bea81"/>
<rect x="425.50" y="341.50" width="13.00" height="8.00" fill="#8d4dff"/>
<rect x="425.50" y="349.50" width="13.00" height="6.00" fill="#ffbc71"/>
<rect x="425.50" y="355.50" width="13.00" height="7.00" fill="#a57e81"/>
<rect x="438.50" y="133.50" width="13.00" height="63.00" fill="#e66266"/>
<rect x="438.50" y="196.50" width="13.00" height="16.00" fill="#fff8a9"/>
<rect x="438.50" y="212.50" width="13.00" height="17.00" fill="#7bea81"/>
<rect x="438.50" y="229.50" width="13.00" height="16.00" fill="#8d4dff"/>
<rect x="438.50" y="245.50" width="13.00" height="5.00" fill="#ffbc71"/>
<rect x="438.50" y="250.50" width="13.00" height="6.00" fill="#a57e81"/>
<rect x="438.50" y="256.50" width="13.00" height="10.00" fill="#baceac"/>
<rect x="438.50" y="266.50" width="13.00" height="7.00" fill="#00ccff"/>
<rect x="438.50" y="273.50" width="13.00" height="7.00" fill="#ccffff"/>
<rect x="438.50" y="280.50" width="13.00" height="7.00" fill="#ff99cc"/>
<rect x="438.50" y="287.50" width="13.00" height="6.00" fill="#cc99ff"/>
<rect x="438.50" y="293.50" width="13.00" height="7.00" fill="#ffcc99"/>
<rect x="438.50" y="300.50" width="13.00" height="8.00" fill="#3366ff"/>
<rect x="438.50" y="308.50" width="13.00" height="8.00" fill="#33cccc"/>
<rect x="438.50" y="316.50" width="13.00" height="8.00" fill="#e66266"/>
<rect x="438.50" y="324.50" width="13.00" height="9.00" fill="#fff8a9"/>
<rect x="438.50" y="333.50" width="13.00" height="7.00" fill="#7bea81"/>
<rect x="438.50" y="340.50" width="13.00" height="8.00" fill="#8d4dff"/>
<rect x="438.50" y="348.50" width="13.00" height="7.00" fill="#ffbc71"/>
<rect x="438.50" y="355.50" width="13.00" height="7.00" fill="#a57e81"/>
<rect x="451.50" y="151.50" width="13.00" height="62.00" fill="#e66266"/>
<rect x="451.50" y="213.50" width="13.00" height="32.00" fill="#fff8a9"/>
<rect x="451.50" y="245.50" width="13.00" height="11.00" fill="#7bea81"/>
<rect x="451.50" y="256.50" width="13.00" height="16.00" fill="#8d4dff"/>
<rect x="451.50" y="272.50" width="13.00" height="4.00" fill="#ffbc71"/>
<rect x="451.50" y="276.50" width="13.00" height="4.00" fill="#a57e81"/>
<rect x="451.50" y="280.50" width="13.00" height="9.00" fill="#baceac"/>
<rect x="451.50" y="289.50" width="13.00" height="6.00" fill="#00ccff"/>
<rect x="451.50" y="295.50" width="13.00" height="3.00" fill="#ccffff"/>
<rect x="451.50" y="298.50" width="13.00" height="2.00" fill="#ff99cc"/>
<rect x="451.50" y="300.50" width="13.00" height="2.00" fill="#ffcc99"/>
<rect x="451.50" y="302.50" width="13.00" height="7.00" fill="#3366ff"/>
<rect x="451.50" y="309.50" width="13.00" height="9.00" fill="#33cccc"/>
<rect x="451.50" y="318.50" width="13.00" height="7.00" fill="#e66266"/>
<rect x="451.50" y="325.50" width="13.00" height="8.00" fill="#fff8a9"/>
<rect x="451.50" y="333.50" width="13.00" height="7.00" fill="#7bea81"/>
<rect x="451.50" y="340.50" width="13.00" height="8.00" fill="#8d4dff"/>
<rect x="451.50" y="348.50" width="13.00" height="7.00" fill="#ffbc71"/>
<rect x="451.50" y="355.50" width="13.00" height="7.00" fill="#a57e81"/>
<rect x="464.50" y="122.50" width="13.00" height="64.00" fill="#e66266"/>
<rect x="464.50" y="186.50" width="13.00" height="34.00" fill="#fff8a9"/>
<rect x="464.50" y="220.50" width="13.00" height="18.00" fill="#7bea81"/>
<rect x="464.50" y="238.50" width="13.00" height="15.00" fill="#8d4dff"/>
<rect x="464.50" y="253.50" width="13.00" height="2.00" fill="#ffbc71"/>
<rect x="464.50" y="255.50" width="13.00" height="12.00" fill="#a57e81"/>
<rect x="464.50" y="267.50" width="13.00" height="9.00" fill="#baceac"/>
<rect x="464.50" y="276.50" width="13.00" height="4.00" fill="#00ccff"/>
<rect x="464.50" y="280.50" width="13.00" height="6.00" fill="#ff99cc"/>
<rect x="464.50" y="286.50" width="13.00" height="5.00" fill="#cc99ff"/>
<rect x="464.50" y="291.50" width="13.00" height="7.00" fill="#ffcc99"/>
<rect x="464.50" y="298.50" width="13.00" height="8.00" fill="#3366ff"/>
<rect x="464.50" y="306.50" width="13.00" height="10.00" fill="#33cccc"/>
<rect x="464.50" y="316.50" width="13.00" height="7.00" fill="#e66266"/>
<rect x="464.50" y="323.50" width="13.00" height="9.00" fill="#fff8a9"/>
<rect x="464.50" y="332.50" width="13.00" height="7.00" fill="#7bea81"/>
<rect x="464.50" y="339.50" width="13.00" height="8.00" fill="#8d4dff"/>
<rect x="464.50" y="347.50" width="13.00" height="8.00" fill="#ffbc71"/>
<rect x="464.50" y="355.50" width="13.00" height="7.00" fill="#a57e81"/>
<rect x="477.50" y="149.50" width="13.00" height="56.00" fill="#e66266"/>
<rect x="477.50" y="205.50" width="13.00" height="24.00" fill="#fff8a9"/>
<rect x="477.50" y="229.50" width="13.00" height="29.00" fill="#7bea81"/>
<rect x="477.50" y="258.50" width="13.00" height="15.00" fill="#8d4dff"/>
<rect x="477.50" y="273.50" width="13.00" height="4.00" fill="#ffbc71"/>
<rect x="477.50" y="277.50" width="13.00" height="10.00" fill="#a57e81"/>
<rect x="477.50" y="287.50" width="13.00" height="7.00" fill="#baceac"/>
<rect x="477.50" y="294.50" width="13.00" height="2.00" fill="#00ccff"/>
<rect x="477.50" y="296.50" width="13.00" height="2.00" fill="#ccffff"/>
<rect x="477.50" y="298.50" width="13.00" height="8.00" fill="#ff99cc"/>
<rect x="477.50" y="306.50" width="13.00" height="2.00" fill="#cc99ff"/>
<rect x="477.50" y="308.50" width="13.00" height="5.00" fill="#ffcc99"/>
<rect x="477.50" y="313.50" width="13.00" height="6.00" fill="#3366ff"/>
<rect x="477.50" y="319.50" width="13.00" height="6.00" fill="#33cccc"/>
<rect x="477.50" y="325.50" width="13.00" height="3.00" fill="#e66266"/>
<rect x="477.50" y="328.50" width="13.00" height="8.00" fill="#fff8a9"/>
<rect x="477.50" y="336.50" width="13.00" height="7.00" fill="#7bea81"/>
<rect x="477.50" y="343.50" width="13.00" height="6.00" fill="#8d4dff"/>
<rect x="477.50" y="349.50" width="13.00" height="6.00" fill="#ffbc71"/>
<rect x="477.50" y="355.50" width="13.00" height="7.00" fill="#a57e81"/>
<rect x="490.50" y="136.50" width="13.00" height="59.00" fill="#e66266"/>
<rect x="490.50" y="195.50" width="13.00" height="39.00" fill="#fff8a9"/>
<rect x="490.50" y="234.50" width="13.00" height="25.00" fill="#7bea81"/>
<rect x="490.50" y="259.50" width="13.00" height="16.00" fill="#8d4dff"/>
<rect x="490.50" y="275.50" width="13.00" height="4.00" fill="#ffbc71"/>
<rect x="490.50" y="279.50" width="13.00" height="1.00" fill="#a57e81"/>
<rect x="490.50" y="280.50" width="13.00" height="7.00" fill="#baceac"/>
<rect x="490.50" y="287.50" width="13.00" height="6.00" fill="#00ccff"/>
<rect x="490.50" y="293.50" width="13.00" height="5.00" fill="#ccffff"/>
<rect x="490.50" y="298.50" width="13.00" height="2.00" fill="#ff99cc"/>
<rect x="490.50" y="300.50" width="13.00" height="4.00" fill="#cc99ff"/>
<rect x="490.50" y="304.50" width="13.00" height="7.00" fill="#ffcc99"/>
<rect x="490.50" y="311.50" width="13.00" height="7.00" fill="#3366ff"/>
<rect x="490.50" y="318.50" width="13.00" height="7.00" fill="#33cccc"/>
<rect x="490.50" y="325.50" width="13.00" height="4.00" fill="#e66266"/>
<rect x="490.50" y="329.50" width="13.00" height="10.00" fill="#fff8a9"/>
<rect x="490.50" y="339.50" width="13.00" height="3.00" fill="#7bea81"/>
<rect x="490.50" y="342.50" width="13.00" height="7.00" fill="#8d4dff"/>
<rect x="490.50" y="349.50" width="13.00" height="6.00" fill="#ffbc71"/>
<rect x="490.50" y="355.50" width="13.00" height="7.00" fill="#a57e81"/>
<rect x="503.50" y="133.50" width="13.00" height="63.00" fill="#e66266"/>
<rect x="503.50" y="196.50" width="13.00" height="47.00" fill="#fff8a9"/>
<rect x="503.50" y="243.50" width="13.00" height="12.00" fill="#7bea81"/>
<rect x="503.50" y="255.50" width="13.00" height="14.00" fill="#8d4dff"/>
<rect x="503.50" y="269.50" width="13.00" height="4.00" fill="#ffbc71"/>
<rect x="503.50" y="273.50" width="13.00" height="2.00" fill="#a57e81"/>
<rect x="503.50" y="275.50" width="13.00" height="7.00" fill="#baceac"/>
<rect x="503.50" y="282.50" width="13.00" height="5.00" fill="#00ccff"/>
<rect x="503.50" y="287.50" width="13.00" height="8.00" fill="#ccffff"/>
<rect x="503.50" y="295.50" width="13.00" height="2.00" fill="#ff99cc"/>
<rect x="503.50" y="297.50" width="13.00" height="4.00" fill="#cc99ff"/>
<rect x="503.50" y="301.50" width="13.00" height="6.00" fill="#ffcc99"/>
<rect x="503.50" y="307.50" width="13.00" height="10.00" fill="#3366ff"/>
<rect x="503.50" y="317.50" width="13.00" height="12.00" fill="#33cccc"/>
<rect x="503.50" y="329.50" width="13.00" height="4.00" fill="#e66266"/>
<rect x="503.50" y="333.50" width="13.00" height="7.00" fill="#fff8a9"/>
<rect x="503.50" y="340.50" width="13.00" height="2.00" fill="#7bea81"/>
<rect x="503.50" y="342.50" width="13.00" height="7.00" fill="#8d4dff"/>
<rect x="503.50" y="349.50" width="13.00" height="6.00" fill="#ffbc71"/>
<rect x="503.50" y="355.50" width="13.00" height="7.00" fill="#a57e81"/>
<rect x="516.50" y="135.50" width="13.00" height="60.00" fill="#e66266"/>
<rect x="516.50" y="195.50" width="13.00" height="34.00" fill="#fff8a9"/>
<rect x="516.50" y="229.50" width="13.00" height="15.00" fill="#7bea81"/>
<rect x="516.50" y="244.50" width="13.00" height="10.00" fill="#8d4dff"/>
<rect x="516.50" y="254.50" width="13.00" height="5.00" fill="#ffbc71"/>
<rect x="516.50" y="259.50" width="13.00" height="11.00" fill="#a57e81"/>
<rect x="516.50" y="270.50" width="13.00" height="10.00" fill="#baceac"/>
<rect x="516.50" y="280.50" width="13.00" height="4.00" fill="#00ccff"/>
<rect x="516.50" y="284.50" width="13.00" height="12.00" fill="#ccffff"/>
<rect x="516.50" y="296.50" width="13.00" height="4.00" fill="#ff99cc"/>
<rect x="516.50" y="300.50" width="13.00" height="3.00" fill="#cc99ff"/>
<rect x="516.50" y="303.50" width="13.00" height="4.00" fill="#ffcc99"/>
<rect x="516.50" y="307.50" width="13.00" height="8.00" fill="#3366ff"/>
<rect x="516.50" y="315.50" width="13.00" height="8.00" fill="#33cccc"/>
<rect x="516.50" y="323.50" width="13.00" height="4.00" fill="#e66266"/>
<rect x="516.50" y="327.50" width="13.00" height="8.00" fill="#fff8a9"/>
<rect x="516.50" y="335.50" width="13.00" height="6.00" fill="#7bea81"/>
<rect x="516.50" y="341.50" width="13.00" height="8.00" fill="#8d4dff"/>
<rect x="516.50" y="349.50" width="13.00" height="6.00" fill="#ffbc71"/>
<rect x="516.50" y="355.50" width="13.00" height="7.00" fill="#a57e81"/>
<rect x="529.50" y="97.50" width="13.00" height="70.00" fill="#e66266"/>
<rect x="529.50" y="167.50" width="13.00" height="43.00" fill="#fff8a9"/>
<rect x="529.50" y="210.50" width="13.00" height="18.00" fill="#7bea81"/>
<rect x="529.50" y="228.50" width="13.00" height="10.00" fill="#8d4dff"/>
<rect x="529.50" y="238.50" width="13.00" height="4.00" fill="#ffbc71"/>
<rect x="529.50" y="242.50" width="13.00" height="16.00" fill="#a57e81"/>
<rect x="529.50" y="258.50" width="13.00" height="10.00" fill="#baceac"/>
<rect x="529.50" y="268.50" width="13.00" height="4.00" fill="#00ccff"/>
<rect x="529.50" y="272.50" width="13.00" height="14.00" fill="#ccffff"/>
<rect x="529.50" y="286.50" width="13.00" height="10.00" fill="#ff99cc"/>
<rect x="529.50" y="296.50" width="13.00" height="5.00" fill="#cc99ff"/>
<rect x="529.50" y="301.50" width="13.00" height="4.00" fill="#ffcc99"/>
<rect x="529.50" y="305.50" width="13.00" height="8.00" fill="#3366ff"/>
<rect x="529.50" y="313.50" width="13.00" height="10.00" fill="#33cccc"/>
<rect x="529.50" y="323.50" width="13.00" height="3.00" fill="#e66266"/>
<rect x="529.50" y="326.50" width="13.00" height="6.00" fill="#fff8a9"/>
<rect x="529.50" y="332.50" width="13.00" height="6.00" fill="#7bea81"/>
<rect x="529.50" y="338.50" width="13.00" height="9.00" fill="#8d4dff"/>
<rect x="529.50" y="347.50" width="13.00" height="8.00" fill="#ffbc71"/>
<rect x="529.50" y="355.50" width="13.00" height="7.00" fill="#a57e81"/>
<rect x="542.50" y="103.50" width="13.00" height="74.00" fill="#e66266"/>
<rect x="542.50" y="177.50" width="13.00" height="39.00" fill="#fff8a9"/>
<rect x="542.50" y="216.50" width="13.00" height="18.00" fill="#7bea81"/>
<rect x="542.50" y="234.50" width="13.00" height="12.00" fill="#8d4dff"/>
<rect x="542.50" y="246.50" width="13.00" height="2.00" fill="#ffbc71"/>
<rect x="542.50" y="248.50" width="13.00" height="18.00" fill="#a57e81"/>
<rect x="542.50" y="266.50" width="13.00" height="11.00" fill="#baceac"/>
<rect x="542.50" y="277.50" width="13.00" height="4.00" fill="#00ccff"/>
<rect x="542.50" y="281.50" width="13.00" height="14.00" fill="#ccffff"/>
<rect x="542.50" y="295.50" width="13.00" height="9.00" fill="#ff99cc"/>
<rect x="542.50" y="304.50" width="13.00" height="3.00" fill="#ffcc99"/>
<rect x="542.50" y="307.50" width="13.00" height="8.00" fill="#3366ff"/>
<rect x="542.50" y="315.50" width="13.00" height="8.00" fill="#33cccc"/>
<rect x="542.50" y="323.50" width="13.00" height="4.00" fill="#e66266"/>
<rect x="542.50" y="327.50" width="13.00" height="6.00" fill="#fff8a9"/>
<rect x="542.50" y="333.50" width="13.00" height="7.00" fill="#7bea81"/>
<rect x="542.50" y="340.50" width="13.00" height="7.00" fill="#8d4dff"/>
<rect x="542.50" y="347.50" width="13.00" height="8.00" fill="#ffbc71"/>
<rect x="542.50" y="355.50" width="13.00" height="7.00" fill="#a57e81"/>
<rect x="555.50" y="73.50" width="13.00" height="82.00" fill="#e66266"/>
<rect x="555.50" y="155.50" width="13.00" height="47.00" fill="#fff8a9"/>
<rect x="555.50" y="202.50" width="13.00" height="14.00" fill="#7bea81"/>
<rect x="555.50" y="216.50" width="13.00" height="14.00" fill="#8d4dff"/>
<rect x="555.50" y="230.50" width="13.00" height="2.00" fill="#ffbc71"/>
<rect x="555.50" y="232.50" width="13.00" height="13.00" fill="#a57e81"/>
<rect x="555.50" y="245.50" width="13.00" height="9.00" fill="#baceac"/>
<rect x="555.50" y="254.50" width="13.00" height="6.00" fill="#00ccff"/>
<rect x="555.50" y="260.50" width="13.00" height="16.00" fill="#ccffff"/>
<rect x="555.50" y="276.50" width="13.00" height="10.00" fill="#ff99cc"/>
<rect x="555.50" y="286.50" width="13.00" height="6.00" fill="#cc99ff"/>
<rect x="555.50" y="292.50" width="13.00" height="9.00" fill="#ffcc99"/>
<rect x="555.50" y="301.50" width="13.00" height="8.00" fill="#3366ff"/>
<rect x="555.50" y="309.50" width="13.00" height="8.00" fill="#33cccc"/>
<rect x="555.50" y="317.50" width="13.00" height="6.00" fill="#e66266"/>
<rect x="555.50" y="323.50" width="13.00" height="8.00" fill="#fff8a9"/>
<rect x="555.50" y="331.50" width="13.00" height="8.00" fill="#7bea81"/>
<rect x="555.50" y="339.50" width="13.00" height="9.00" fill="#8d4dff"/>
<rect x="555.50" y="348.50" width="13.00" height="7.00" fill="#ffbc71"/>
<rect x="555.50" y="355.50" width="13.00" height="7.00" fill="#a57e81"/>
<rect x="568.50" y="90.50" width="13.00" height="90.00" fill="#e66266"/>
<rect x="568.50" y="180.50" width="13.00" height="28.00" fill="#fff8a9"/>
<rect x="568.50" y="208.50" width="13.00" height="20.00" fill="#7bea81"/>
<rect x="568.50" y="228.50" width="13.00" height="13.00" fill="#8d4dff"/>
<rect x="568.50" y="241.50" width="13.00" height="2.00" fill="#ffbc71"/>
<rect x="568.50" y="243.50" width="13.00" height="14.00" fill="#a57e81"/>
<rect x="568.50" y="257.50" width="13.00" height="10.00" fill="#baceac"/>
<rect x="568.50" y="267.50" width="13.00" height="4.00" fill="#00ccff"/>
<rect x="568.50" y="271.50" width="13.00" height="16.00" fill="#ccffff"/>
<rect x="568.50" y="287.50" width="13.00" height="12.00" fill="#ff99cc"/>
<rect x="568.50" y="299.50" width="13.00" height="2.00" fill="#cc99ff"/>
<rect x="568.50" y="301.50" width="13.00" height="4.00" fill="#ffcc99"/>
<rect x="568.50" y="305.50" width="13.00" height="7.00" fill="#3366ff"/>
<rect x="568.50" y="312.50" width="13.00" height="9.00" fill="#33cccc"/>
<rect x="568.50" y="321.50" width="13.00" height="3.00" fill="#e66266"/>
<rect x="568.50" y="324.50" width="13.00" height="9.00" fill="#fff8a9"/>
<rect x="568.50" y="333.50" width="13.00" height="8.00" fill="#7bea81"/>
<rect x="568.50" y="341.50" width="13.00" height="8.00" fill="#8d4dff"/>
<rect x="568.50" y="349.50" width="13.00" height="6.00" fill="#ffbc71"/>
<rect x="568.50" y="355.50" width="13.00" height="7.00" fill="#a57e81"/>
<rect x="581.50" y="56.50" width="13.00" height="85.00" fill="#e66266"/>
<rect x="581.50" y="141.50" width="13.00" height="43.00" fill="#fff8a9"/>
<rect x="581.50" y="184.50" width="13.00" height="20.00" fill="#7bea81"/>
<rect x="581.50" y="204.50" width="13.00" height="16.00" fill="#8d4dff"/>
<rect x="581.50" y="220.50" width="13.00" height="1.00" fill="#ffbc71"/>
<rect x="581.50" y="221.50" width="13.00" height="16.00" fill="#a57e81"/>
<rect x="581.50" y="237.50" width="13.00" height="10.00" fill="#baceac"/>
<rect x="581.50" y="247.50" width="13.00" height="7.00" fill="#00ccff"/>
<rect x="581.50" y="254.50" width="13.00" height="16.00" fill="#ccffff"/>
<rect x="581.50" y="270.50" width="13.00" height="13.00" fill="#ff99cc"/>
<rect x="581.50" y="283.50" width="13.00" height="7.00" fill="#cc99ff"/>
<rect x="581.50" y="290.50" width="13.00" height="8.00" fill="#ffcc99"/>
<rect x="581.50" y="298.50" width="13.00" height="8.00" fill="#3366ff"/>
<rect x="581.50" y="306.50" width="13.00" height="9.00" fill="#33cccc"/>
<rect x="581.50" y="315.50" width="13.00" height="6.00" fill="#e66266"/>
<rect x="581.50" y="321.50" width="13.00" height="9.00" fill="#fff8a9"/>
<rect x="581.50" y="330.50" width="13.00" height="9.00" fill="#7bea81"/>
<rect x="581.50" y="339.50" width="13.00" height="8.00" fill="#8d4dff"/>
<rect x="581.50" y="347.50" width="13.00" height="8.00" fill="#ffbc71"/>
<rect x="581.50" y="355.50" width="13.00" height="7.00" fill="#a57e81"/>
<rect x="594.50" y="63.50" width="13.00" height="90.00" fill="#e66266"/>
<rect x="594.50" y="153.50" width="13.00" height="27.00" fill="#fff8a9"/>
<rect x="594.50" y="180.50" width="13.00" height="22.00" fill="#7bea81"/>
<rect x="594.50" y="202.50" width="13.00" height="17.00" fill="#8d4dff"/>
<rect x="594.50" y="219.50" width="13.00" height="2.00" fill="#ffbc71"/>
<rect x="594.50" y="221.50" width="13.00" height="19.00" fill="#a57e81"/>
<rect x="594.50" y="240.50" width="13.00" height="9.00" fill="#baceac"/>
<rect x="594.50" y="249.50" width="13.00" height="8.00" fill="#00ccff"/>
<rect x="594.50" y="257.50" width="13.00" height="16.00" fill="#ccffff"/>
<rect x="594.50" y="273.50" width="13.00" height="11.00" fill="#ff99cc"/>
<rect x="594.50" y="284.50" width="13.00" height="7.00" fill="#cc99ff"/>
<rect x="594.50" y="291.50" width="13.00" height="10.00" fill="#ffcc99"/>
<rect x="594.50" y="301.50" width="13.00" height="7.00" fill="#3366ff"/>
<rect x="594.50" y="308.50" width="13.00" height="10.00" fill="#33cccc"/>
<rect x="594.50" y="318.50" width="13.00" height="5.00" fill="#e66266"/>
<rect x="594.50" y="323.50" width="13.00" height="10.00" fill="#fff8a9"/>
<rect x="594.50" y="333.50" width="13.00" height="6.00" fill="#7bea81"/>
<rect x="594.50" y="339.50" width="13.00" height="9.00" fill="#8d4dff"/>
<rect x="594.50" y="348.50" width="13.00" height="7.00" fill="#ffbc71"/>
<rect x="594.50" y="355.50" width="13.00" height="7.00" fill="#a57e81"/>
<rect x="607.50" y="99.50" width="13.00" height="80.00" fill="#e66266"/>
<rect x="607.50" y="179.50" width="13.00" height="21.00" fill="#fff8a9"/>
<rect x="607.50" y="200.50" width="13.00" height="22.00" fill="#7bea81"/>
<rect x="607.50" y="222.50" width="13.00" height="20.00" fill="#8d4dff"/>
<rect x="607.50" y="242.50" width="13.00" height="2.00" fill="#ffbc71"/>
<rect x="607.50" y="244.50" width="13.00" height="14.00" fill="#a57e81"/>
<rect x="607.50" y="258.50" width="13.00" height="10.00" fill="#baceac"/>
<rect x="607.50" y="268.50" width="13.00" height="4.00" fill="#00ccff"/>
<rect x="607.50" y="272.50" width="13.00" height="15.00" fill="#ccffff"/>
<rect x="607.50" y="287.50" width="13.00" height="4.00" fill="#ff99cc"/>
<rect x="607.50" y="291.50" width="13.00" height="6.00" fill="#cc99ff"/>
<rect x="607.50" y="297.50" width="13.00" height="5.00" fill="#ffcc99"/>
<rect x="607.50" y="302.50" width="13.00" height="7.00" fill="#3366ff"/>
<rect x="607.50" y="309.50" width="13.00" height="9.00" fill="#33cccc"/>
<rect x="607.50" y="318.50" width="13.00" height="5.00" fill="#e66266"/>
<rect x="607.50" y="323.50" width="13.00" height="10.00" fill="#fff8a9"/>
<rect x="607.50" y="333.50" width="13.00" height="6.00" fill="#7bea81"/>
<rect x="607.50" y="339.50" width="13.00" height="9.00" fill="#8d4dff"/>
<rect x="607.50" y="348.50" width="13.00" height="7.00" fill="#ffbc71"/>
<rect x="607.50" y="355.50" width="13.00" height="7.00" fill="#a57e81"/>
<rect x="620.50" y="66.50" width="13.00" height="87.00" fill="#e66266"/>
<rect x="620.50" y="153.50" width="13.00" height="27.00" fill="#fff8a9"/>
<rect x="620.50" y="180.50" width="13.00" height="20.00" fill="#7bea81"/>
<rect x="620.50" y="200.50" width="13.00" height="21.00" fill="#8d4dff"/>
<rect x="620.50" y="221.50" width="13.00" height="2.00" fill="#ffbc71"/>
<rect x="620.50" y="223.50" width="13.00" height="17.00" fill="#a57e81"/>
<rect x="620.50" y="240.50" width="13.00" height="10.00" fill="#baceac"/>
<rect x="620.50" y="250.50" width="13.00" height="8.00" fill="#00ccff"/>
<rect x="620.50" y="258.50" width="13.00" height="16.00" fill="#ccffff"/>
<rect x="620.50" y="274.50" width="13.00" height="10.00" fill="#ff99cc"/>
<rect x="620.50" y="284.50" width="13.00" height="6.00" fill="#cc99ff"/>
<rect x="620.50" y="290.50" width="13.00" height="7.00" fill="#ffcc99"/>
<rect x="620.50" y="297.50" width="13.00" height="7.00" fill="#3366ff"/>
<rect x="620.50" y="304.50" width="13.00" height="9.00" fill="#33cccc"/>
<rect x="620.50" y="313.50" width="13.00" height="8.00" fill="#e66266"/>
<rect x="620.50" y="321.50" width="13.00" height="8.00" fill="#fff8a9"/>
<rect x="620.50" y="329.50" width="13.00" height="10.00" fill="#7bea81"/>
<rect x="620.50" y="339.50" width="13.00" height="8.00" fill="#8d4dff"/>
<rect x="620.50" y="347.50" width="13.00" height="8.00" fill="#ffbc71"/>
<rect x="620.50" y="355.50" width="13.00" height="7.00" fill="#a57e81"/>
<rect x="633.50" y="79.50" width="13.00" height="82.00" fill="#e66266"/>
<rect x="633.50" y="161.50" width="13.00" height="43.00" fill="#fff8a9"/>
<rect x="633.50" y="204.50" width="13.00" height="14.00" fill="#7bea81"/>
<rect x="633.50" y="218.50" width="13.00" height="19.00" fill="#8d4dff"/>
<rect x="633.50" y="237.50" width="13.00" height="6.00" fill="#ffbc71"/>
<rect x="633.50" y="243.50" width="13.00" height="13.00" fill="#a57e81"/>
<rect x="633.50" y="256.50" width="13.00" height="8.00" fill="#baceac"/>
<rect x="633.50" y="264.50" width="13.00" height="7.00" fill="#00ccff"/>
<rect x="633.50" y="271.50" width="13.00" height="15.00" fill="#ccffff"/>
<rect x="633.50" y="286.50" width="13.00" height="4.00" fill="#ff99cc"/>
<rect x="633.50" y="290.50" width="13.00" height="9.00" fill="#cc99ff"/>
<rect x="633.50" y="299.50" width="13.00" height="7.00" fill="#ffcc99"/>
<rect x="633.50" y="306.50" width="13.00" height="6.00" fill="#3366ff"/>
<rect x="633.50" y="312.50" width="13.00" height="8.00" fill="#33cccc"/>
<rect x="633.50" y="320.50" width="13.00" height="9.00" fill="#e66266"/>
<rect x="633.50" y="329.50" width="13.00" height="8.00" fill="#fff8a9"/>
<rect x="633.50" y="337.50" width="13.00" height="9.00" fill="#7bea81"/>
<rect x="633.50" y="346.50" width="13.00" height="1.00" fill="#8d4dff"/>
<rect x="633.50" y="347.50" width="13.00" height="8.00" fill="#ffbc71"/>
<rect x="633.50" y="355.50" width="13.00" height="7.00" fill="#a57e81"/>
<rect x="646.50" y="97.50" width="13.00" height="82.00" fill="#e66266"/>
<rect x="646.50" y="179.50" width="13.00" height="40.00" fill="#fff8a9"/>
<rect x="646.50" y="219.50" width="13.00" height="20.00" fill="#7bea81"/>
<rect x="646.50" y="239.50" width="13.00" height="11.00" fill="#8d4dff"/>
<rect x="646.50" y="250.50" width="13.00" height="6.00" fill="#ffbc71"/>
<rect x="646.50" y="256.50" width="13.00" height="13.00" fill="#a57e81"/>
<rect x="646.50" y="269.50" width="13.00" height="7.00" fill="#baceac"/>
<rect x="646.50" y="276.50" width="13.00" height="4.00" fill="#00ccff"/>
<rect x="646.50" y="280.50" width="13.00" height="16.00" fill="#ccffff"/>
<rect x="646.50" y="296.50" width="13.00" height="4.00" fill="#ff99cc"/>
<rect x="646.50" y="300.50" width="13.00" height="7.00" fill="#cc99ff"/>
<rect x="646.50" y="307.50" width="13.00" height="4.00" fill="#ffcc99"/>
<rect x="646.50" y="311.50" width="13.00" height="5.00" fill="#3366ff"/>
<rect x="646.50" y="316.50" width="13.00" height="7.00" fill="#33cccc"/>
<rect x="646.50" y="323.50" width="13.00" height="9.00" fill="#e66266"/>
<rect x="646.50" y="332.50" width="13.00" height="8.00" fill="#fff8a9"/>
<rect x="646.50" y="340.50" width="13.00" height="9.00" fill="#7bea81"/>
<rect x="646.50" y="349.50" width="13.00" height="6.00" fill="#ffbc71"/>
<rect x="646.50" y="355.50" width="13.00" height="7.00" fill="#a57e81"/>
<rect x="659.50" y="79.50" width="13.00" height="70.00" fill="#e66266"/>
<rect x="659.50" y="149.50" width="13.00" height="48.00" fill="#fff8a9"/>
<rect x="659.50" y="197.50" width="13.00" height="12.00" fill="#7bea81"/>
<rect x="659.50" y="209.50" width="13.00" height="24.00" fill="#8d4dff"/>
<rect x="659.50" y="233.50" width="13.00" height="8.00" fill="#ffbc71"/>
<rect x="659.50" y="241.50" width="13.00" height="6.00" fill="#a57e81"/>
<rect x="659.50" y="247.50" width="13.00" height="10.00" fill="#baceac"/>
<rect x="659.50" y="257.50" width="13.00" height="12.00" fill="#00ccff"/>
<rect x="659.50" y="269.50" width="13.00" height="15.00" fill="#ccffff"/>
<rect x="659.50" y="284.50" width="13.00" height="3.00" fill="#ff99cc"/>
<rect x="659.50" y="287.50" width="13.00" height="9.00" fill="#cc99ff"/>
<rect x="659.50" y="296.50" width="13.00" height="9.00" fill="#ffcc99"/>
<rect x="659.50" y="305.50" width="13.00" height="7.00" fill="#3366ff"/>
<rect x="659.50" y="312.50" width="13.00" height="8.00" fill="#33cccc"/>
<rect x="659.50" y="320.50" width="13.00" height="10.00" fill="#e66266"/>
<rect x="659.50" y="330.50" width="13.00" height="9.00" fill="#fff8a9"/>
<rect x="659.50" y="339.50" width="13.00" height="7.00" fill="#7bea81"/>
<rect x="659.50" y="346.50" width="13.00" height="2.00" fill="#8d4dff"/>
<rect x="659.50" y="348.50" width="13.00" height="7.00" fill="#ffbc71"/>
<rect x="659.50" y="355.50" width="13.00" height="7.00" fill="#a57e81"/>
<rect x="672.50" y="84.50" width="13.00" height="86.00" fill="#e66266"/>
<rect x="672.50" y="170.50" width="13.00" height="33.00" fill="#fff8a9"/>
<rect x="672.50" y="203.50" width="13.00" height="11.00" fill="#7bea81"/>
<rect x="672.50" y="214.50" width="13.00" height="15.00" fill="#8d4dff"/>
<rect x="672.50" y="229.50" width="13.00" height="6.00" fill="#ffbc71"/>
<rect x="672.50" y="235.50" width="13.00" height="10.00" fill="#a57e81"/>
<rect x="672.50" y="245.50" width="13.00" height="9.00" fill="#baceac"/>
<rect x="672.50" y="254.50" width="13.00" height="8.00" fill="#00ccff"/>
<rect x="672.50" y="262.50" width="13.00" height="16.00" fill="#ccffff"/>
<rect x="672.50" y="278.50" width="13.00" height="4.00" fill="#ff99cc"/>
<rect x="672.50" y="282.50" width="13.00" height="13.00" fill="#cc99ff"/>
<rect x="672.50" y="295.50" width="13.00" height="9.00" fill="#ffcc99"/>
<rect x="672.50" y="304.50" width="13.00" height="8.00" fill="#3366ff"/>
<rect x="672.50" y="312.50" width="13.00" height="8.00" fill="#33cccc"/>
<rect x="672.50" y="320.50" width="13.00" height="9.00" fill="#e66266"/>
<rect x="672.50" y="329.50" width="13.00" height="9.00" fill="#fff8a9"/>
<rect x="672.50" y="338.50" width="13.00" height="6.00" fill="#7bea81"/>
<rect x="672.50" y="344.50" width="13.00" height="3.00" fill="#8d4dff"/>
<rect x="672.50" y="347.50" width="13.00" height="8.00" fill="#ffbc71"/>
<rect x="672.50" y="355.50" width="13.00" height="7.00" fill="#a57e81"/>
<rect x="685.50" y="62.50" width="14.00" height="89.00" fill="#e66266"/>
<rect x="685.50" y="151.50" width="14.00" height="44.00" fill="#fff8a9"/>
<rect x="685.50" y="195.50" width="14.00" height="13.00" fill="#7bea81"/>
<rect x="685.50" y="208.50" width="14.00" height="13.00" fill="#8d4dff"/>
<rect x="685.50" y="221.50" width="14.00" height="7.00" fill="#ffbc71"/>
<rect x="685.50" y="228.50" width="14.00" height="16.00" fill="#a57e81"/>
<rect x="685.50" y="244.50" width="14.00" height="8.00" fill="#baceac"/>
<rect x="685.50" y="252.50" width="14.00" height="13.00" fill="#00ccff"/>
<rect x="685.50" y="265.50" width="14.00" height="12.00" fill="#ccffff"/>
<rect x="685.50" y="277.50" width="14.00" height="6.00" fill="#ff99cc"/>
<rect x="685.50" y="283.50" width="14.00" height="10.00" fill="#cc99ff"/>
<rect x="685.50" y="293.50" width="14.00" height="9.00" fill="#ffcc99"/>
<rect x="685.50" y="302.50" width="14.00" height="7.00" fill="#3366ff"/>
<rect x="685.50" y="309.50" width="14.00" height="8.00" fill="#33cccc"/>
<rect x="685.50" y="317.50" width="14.00" height="9.00" fill="#e66266"/>
<rect x="685.50" y="326.50" width="14.00" height="10.00" fill="#fff8a9"/>
<rect x="685.50" y="336.50" width="14.00" height="8.00" fill="#7bea81"/>
<rect x="685.50" y="344.50" width="14.00" height="3.00" fill="#8d4dff"/>
<rect x="685.50" y="347.50" width="14.00" height="8.00" fill="#ffbc71"/>
<rect x="685.50" y="355.50" width="14.00" height="7.00" fill="#a57e81"/>
<rect x="699.50" y="58.50" width="13.00" height="90.00" fill="#e66266"/>
<rect x="699.50" y="148.50" width="13.00" height="45.00" fill="#fff8a9"/>
<rect x="699.50" y="193.50" width="13.00" height="11.00" fill="#7bea81"/>
<rect x="699.50" y="204.50" width="13.00" height="19.00" fill="#8d4dff"/>
<rect x="699.50" y="223.50" width="13.00" height="6.00" fill="#ffbc71"/>
<rect x="699.50" y="229.50" width="13.00" height="15.00" fill="#a57e81"/>
<rect x="699.50" y="244.50" width="13.00" height="8.00" fill="#baceac"/>
<rect x="699.50" y="252.50" width="13.00" height="11.00" fill="#00ccff"/>
<rect x="699.50" y="263.50" width="13.00" height="11.00" fill="#ccffff"/>
<rect x="699.50" y="274.50" width="13.00" height="6.00" fill="#ff99cc"/>
<rect x="699.50" y="280.50" width="13.00" height="11.00" fill="#cc99ff"/>
<rect x="699.50" y="291.50" width="13.00" height="11.00" fill="#ffcc99"/>
<rect x="699.50" y="302.50" width="13.00" height="9.00" fill="#3366ff"/>
<rect x="699.50" y="311.50" width="13.00" height="9.00" fill="#33cccc"/>
<rect x="699.50" y="320.50" width="13.00" height="9.00" fill="#e66266"/>
<rect x="699.50" y="329.50" width="13.00" height="8.00" fill="#fff8a9"/>
<rect x="699.50" y="337.50" width="13.00" height="7.00" fill="#7bea81"/>
<rect x="699.50" y="344.50" width="13.00" height="3.00" fill="#8d4dff"/>
<rect x="699.50" y="347.50" width="13.00" height="8.00" fill="#ffbc71"/>
<rect x="699.50" y="355.50" width="13.00" height="7.00" fill="#a57e81"/>
<rect x="712.50" y="81.50" width="13.00" height="89.00" fill="#e66266"/>
<rect x="712.50" y="170.50" width="13.00" height="46.00" fill="#fff8a9"/>
<rect x="712.50" y="216.50" width="13.00" height="3.00" fill="#7bea81"/>
<rect x="712.50" y="219.50" width="13.00" height="20.00" fill="#8d4dff"/>
<rect x="712.50" y="239.50" width="13.00" height="5.00" fill="#ffbc71"/>
<rect x="712.50" y="244.50" width="13.00" height="10.00" fill="#a57e81"/>
<rect x="712.50" y="254.50" width="13.00" height="9.00" fill="#baceac"/>
<rect x="712.50" y="263.50" width="13.00" height="8.00" fill="#00ccff"/>
<rect x="712.50" y="271.50" width="13.00" height="11.00" fill="#ccffff"/>
<rect x="712.50" y="282.50" width="13.00" height="1.00" fill="#ff99cc"/>
<rect x="712.50" y="283.50" width="13.00" height="12.00" fill="#cc99ff"/>
<rect x="712.50" y="295.50" width="13.00" height="10.00" fill="#ffcc99"/>
<rect x="712.50" y="305.50" width="13.00" height="8.00" fill="#3366ff"/>
<rect x="712.50" y="313.50" width="13.00" height="8.00" fill="#33cccc"/>
<rect x="712.50" y="321.50" width="13.00" height="10.00" fill="#e66266"/>
<rect x="712.50" y="331.50" width="13.00" height="9.00" fill="#fff8a9"/>
<rect x="712.50" y="340.50" width="13.00" height="5.00" fill="#7bea81"/>
<rect x="712.50" y="345.50" width="13.00" height="3.00" fill="#8d4dff"/>
<rect x="712.50" y="348.50" width="13.00" height="8.00" fill="#ffbc71"/>
<rect x="712.50" y="356.50" width="13.00" height="6.00" fill="#a57e81"/>
<rect x="725.50" y="86.50" width="13.00" height="87.00" fill="#e66266"/>
<rect x="725.50" y="173.50" width="13.00" height="50.00" fill="#fff8a9"/>
<rect x="725.50" y="223.50" width="13.00" height="4.00" fill="#7bea81"/>
<rect x="725.50" y="227.50" width="13.00" height="14.00" fill="#8d4dff"/>
<rect x="725.50" y="241.50" width="13.00" height="6.00" fill="#ffbc71"/>
<rect x="725.50" y="247.50" width="13.00" height="10.00" fill="#a57e81"/>
<rect x="725.50" y="257.50" width="13.00" height="9.00" fill="#baceac"/>
<rect x="725.50" y="266.50" width="13.00" height="8.00" fill="#00ccff"/>
<rect x="725.50" y="274.50" width="13.00" height="10.00" fill="#ccffff"/>
<rect x="725.50" y="284.50" width="13.00" height="5.00" fill="#ff99cc"/>
<rect x="725.50" y="289.50" width="13.00" height="6.00" fill="#cc99ff"/>
<rect x="725.50" y="295.50" width="13.00" height="10.00" fill="#ffcc99"/>
<rect x="725.50" y="305.50" width="13.00" height="7.00" fill="#3366ff"/>
<rect x="725.50" y="312.50" width="13.00" height="9.00" fill="#33cccc"/>
<rect x="725.50" y="321.50" width="13.00" height="9.00" fill="#e66266"/>
<rect x="725.50" y="330.50" width="13.00" height="9.00" fill="#fff8a9"/>
<rect x="725.50" y="339.50" width="13.00" height="6.00" fill="#7bea81"/>
<rect x="725.50" y="345.50" width="13.00" height="2.00" fill="#8d4dff"/>
<rect x="725.50" y="347.50" width="13.00" height="8.00" fill="#ffbc71"/>
<rect x="725.50" y="355.50" width="13.00" height="7.00" fill="#a57e81"/>
<rect x="738.50" y="137.50" width="13.00" height="71.00" fill="#e66266"/>
<rect x="738.50" y="208.50" width="13.00" height="39.00" fill="#fff8a9"/>
<rect x="738.50" y="247.50" width="13.00" height="4.00" fill="#7bea81"/>
<rect x="738.50" y="251.50" width="13.00" height="12.00" fill="#8d4dff"/>
<rect x="738.50" y="263.50" width="13.00" height="4.00" fill="#ffbc71"/>
<rect x="738.50" y="267.50" width="13.00" height="5.00" fill="#a57e81"/>
<rect x="738.50" y="272.50" width="13.00" height="8.00" fill="#baceac"/>
<rect x="738.50" y="280.50" width="13.00" height="3.00" fill="#00ccff"/>
<rect x="738.50" y="283.50" width="13.00" height="10.00" fill="#ccffff"/>
<rect x="738.50" y="293.50" width="13.00" height="3.00" fill="#ff99cc"/>
<rect x="738.50" y="296.50" width="13.00" height="5.00" fill="#cc99ff"/>
<rect x="738.50" y="301.50" width="13.00" height="12.00" fill="#ffcc99"/>
<rect x="738.50" y="313.50" width="13.00" height="7.00" fill="#3366ff"/>
<rect x="738.50" y="320.50" width="13.00" height="8.00" fill="#33cccc"/>
<rect x="738.50" y="328.50" width="13.00" height="4.00" fill="#e66266"/>
<rect x="738.50" y="332.50" width="13.00" height="9.00" fill="#fff8a9"/>
<rect x="738.50" y="341.50" width="13.00" height="6.00" fill="#7bea81"/>
<rect x="738.50" y="347.50" width="13.00" height="4.00" fill="#8d4dff"/>
<rect x="738.50" y="351.50" width="13.00" height="7.00" fill="#ffbc71"/>
<rect x="738.50" y="358.50" width="13.00" height="4.00" fill="#a57e81"/>
<rect x="751.50" y="157.50" width="9.00" height="66.00" fill="#e66266"/>
<rect x="751.50" y="223.50" width="9.00" height="30.00" fill="#fff8a9"/>
<rect x="751.50" y="253.50" width="9.00" height="5.00" fill="#7bea81"/>
<rect x="751.50" y="258.50" width="9.00" height="11.00" fill="#8d4dff"/>
<rect x="751.50" y="269.50" width="9.00" height="3.00" fill="#ffbc71"/>
<rect x="751.50" y="272.50" width="9.00" height="10.00" fill="#a57e81"/>
<rect x="751.50" y="282.50" width="9.00" height="7.00" fill="#baceac"/>
<rect x="751.50" y="289.50" width="9.00" height="4.00" fill="#00ccff"/>
<rect x="751.50" y="293.50" width="9.00" height="7.00" fill="#ccffff"/>
<rect x="751.50" y="300.50" width="9.00" height="7.00" fill="#ff99cc"/>
<rect x="751.50" y="307.50" width="9.00" height="10.00" fill="#cc99ff"/>
<rect x="751.50" y="317.50" width="9.00" height="5.00" fill="#ffcc99"/>
<rect x="751.50" y="322.50" width="9.00" height="5.00" fill="#3366ff"/>
<rect x="751.50" y="327.50" width="9.00" height="6.00" fill="#33cccc"/>
<rect x="751.50" y="333.50" width="9.00" height="4.00" fill="#e66266"/>
<rect x="751.50" y="337.50" width="9.00" height="7.00" fill="#fff8a9"/>
<rect x="751.50" y="344.50" width="9.00" height="7.00" fill="#7bea81"/>
<rect x="751.50" y="351.50" width="9.00" height="3.00" fill="#8d4dff"/>
<rect x="751.50" y="354.50" width="9.00" height="6.00" fill="#ffbc71"/>
<rect x="751.50" y="360.50" width="9.00" height="2.00" fill="#a57e81"/>
</g>
<g stroke="#000" stroke-width="1" stroke-dasharray="2,4" fill="none" opacity="0.4">
<line x1="80.5" y1="317.50" x2="760.5" y2="317.50"/>
<line x1="80.5" y1="273.50" x2="760.5" y2="273.50"/>
<line x1="80.5" y1="228.50" x2="760.5" y2="228.50"/>
<line x1="80.5" y1="184.50" x2="760.5" y2="184.50"/>
<line x1="80.5" y1="139.50" x2="760.5" y2="139.50"/>
<line x1="80.5" y1="95.50" x2="760.5" y2="95.50"/>
<line x1="115.50" y1="363.0" x2="115.50" y2="50.5"/>
<line x1="173.50" y1="363.0" x2="173.50" y2="50.5"/>
<line x1="229.50" y1="363.0" x2="229.50" y2="50.5"/>
<line x1="287.50" y1="363.0" x2="287.50" y2="50.5"/>
<line x1="343.50" y1="363.0" x2="343.50" y2="50.5"/>
<line x1="400.50" y1="363.0" x2="400.50" y2="50.5"/>
<line x1="458.50" y1="363.0" x2="458.50" y2="50.5"/>
<line x1="510.50" y1="363.0" x2="510.50" y2="50.5"/>
<line x1="568.50" y1="363.0" x2="568.50" y2="50.5"/>
<line x1="624.50" y1="363.0" x2="624.50" y2="50.5"/>
<line x1="682.50" y1="363.0" x2="682.50" y2="50.5"/>
<line x1="738.50" y1="363.0" x2="738.50" y2="50.5"/>
</g>
<rect x="80.5" y="50.5" width="680.0" height="312.0" fill="none" stroke="#000" stroke-width="1.1"/>
<g stroke="#000" stroke-width="2.4" stroke-linecap="butt">
<line x1="80.5" y1="362.45" x2="86.5" y2="362.45"/>
<line x1="760.5" y1="362.45" x2="754.7" y2="362.45"/>
<line x1="80.5" y1="317.50" x2="86.5" y2="317.50"/>
<line x1="760.5" y1="317.50" x2="754.7" y2="317.50"/>
<line x1="80.5" y1="273.50" x2="86.5" y2="273.50"/>
<line x1="760.5" y1="273.50" x2="754.7" y2="273.50"/>
<line x1="80.5" y1="228.50" x2="86.5" y2="228.50"/>
<line x1="760.5" y1="228.50" x2="754.7" y2="228.50"/>
<line x1="80.5" y1="184.50" x2="86.5" y2="184.50"/>
<line x1="760.5" y1="184.50" x2="754.7" y2="184.50"/>
<line x1="80.5" y1="139.50" x2="86.5" y2="139.50"/>
<line x1="760.5" y1="139.50" x2="754.7" y2="139.50"/>
<line x1="80.5" y1="95.50" x2="86.5" y2="95.50"/>
<line x1="760.5" y1="95.50" x2="754.7" y2="95.50"/>
<line x1="80.5" y1="50.46" x2="86.5" y2="50.46"/>
<line x1="760.5" y1="50.46" x2="754.7" y2="50.46"/>
<line x1="115.50" y1="50.5" x2="115.50" y2="56.3"/>
<line x1="115.50" y1="362.5" x2="115.50" y2="356.7"/>
<line x1="173.50" y1="50.5" x2="173.50" y2="56.3"/>
<line x1="173.50" y1="362.5" x2="173.50" y2="356.7"/>
<line x1="229.50" y1="50.5" x2="229.50" y2="56.3"/>
<line x1="229.50" y1="362.5" x2="229.50" y2="356.7"/>
<line x1="287.50" y1="50.5" x2="287.50" y2="56.3"/>
<line x1="287.50" y1="362.5" x2="287.50" y2="356.7"/>
<line x1="343.50" y1="50.5" x2="343.50" y2="56.3"/>
<line x1="343.50" y1="362.5" x2="343.50" y2="356.7"/>
<line x1="400.50" y1="50.5" x2="400.50" y2="56.3"/>
<line x1="400.50" y1="362.5" x2="400.50" y2="356.7"/>
<line x1="458.50" y1="50.5" x2="458.50" y2="56.3"/>
<line x1="458.50" y1="362.5" x2="458.50" y2="356.7"/>
<line x1="510.50" y1="50.5" x2="510.50" y2="56.3"/>
<line x1="510.50" y1="362.5" x2="510.50" y2="356.7"/>
<line x1="568.50" y1="50.5" x2="568.50" y2="56.3"/>
<line x1="568.50" y1="362.5" x2="568.50" y2="356.7"/>
<line x1="624.50" y1="50.5" x2="624.50" y2="56.3"/>
<line x1="624.50" y1="362.5" x2="624.50" y2="356.7"/>
<line x1="682.50" y1="50.5" x2="682.50" y2="56.3"/>
<line x1="682.50" y1="362.5" x2="682.50" y2="356.7"/>
<line x1="738.50" y1="50.5" x2="738.50" y2="56.3"/>
<line x1="738.50" y1="362.5" x2="738.50" y2="356.7"/>
</g>
<g fill="#000" text-rendering="geometricPrecision">
<text x="419.60" y="26.00" font-size="19.20" text-anchor="middle" textLength="301.80" lengthAdjust="spacingAndGlyphs">Hours Spent on Jobs By Facility</text>
<text x="419.80" y="46.20" font-size="14.00" text-anchor="middle" textLength="365.80" lengthAdjust="spacingAndGlyphs">52 Weeks from Week 28 of 2009 to Week 28 of 2010</text>
<text x="74.90" y="364.85" font-size="9.80" text-anchor="end" textLength="5.94" lengthAdjust="spacingAndGlyphs">0</text>
<text x="73.90" y="319.90" font-size="9.80" text-anchor="end" textLength="47.48" lengthAdjust="spacingAndGlyphs">1,000,000</text>
<text x="73.90" y="275.90" font-size="9.80" text-anchor="end" textLength="47.48" lengthAdjust="spacingAndGlyphs">2,000,000</text>
<text x="73.90" y="230.90" font-size="9.80" text-anchor="end" textLength="47.48" lengthAdjust="spacingAndGlyphs">3,000,000</text>
<text x="73.90" y="186.90" font-size="9.80" text-anchor="end" textLength="47.48" lengthAdjust="spacingAndGlyphs">4,000,000</text>
<text x="73.90" y="141.90" font-size="9.80" text-anchor="end" textLength="47.48" lengthAdjust="spacingAndGlyphs">5,000,000</text>
<text x="73.90" y="97.90" font-size="9.80" text-anchor="end" textLength="47.48" lengthAdjust="spacingAndGlyphs">6,000,000</text>
<text x="73.90" y="52.86" font-size="9.80" text-anchor="end" textLength="47.48" lengthAdjust="spacingAndGlyphs">7,000,000</text>
<text x="114.90" y="374.40" font-size="9.80" text-anchor="middle" textLength="44.93" lengthAdjust="spacingAndGlyphs">Aug 2009</text>
<text x="172.90" y="374.40" font-size="9.80" text-anchor="middle" textLength="44.30" lengthAdjust="spacingAndGlyphs">Sep 2009</text>
<text x="228.90" y="374.40" font-size="9.80" text-anchor="middle" textLength="42.84" lengthAdjust="spacingAndGlyphs">Oct 2009</text>
<text x="286.90" y="374.40" font-size="9.80" text-anchor="middle" textLength="44.92" lengthAdjust="spacingAndGlyphs">Nov 2009</text>
<text x="342.90" y="374.40" font-size="9.80" text-anchor="middle" textLength="44.77" lengthAdjust="spacingAndGlyphs">Dec 2009</text>
<text x="399.90" y="374.40" font-size="9.80" text-anchor="middle" textLength="41.09" lengthAdjust="spacingAndGlyphs">Jan 2010</text>
<text x="457.90" y="374.40" font-size="9.80" text-anchor="middle" textLength="43.23" lengthAdjust="spacingAndGlyphs">Feb 2010</text>
<text x="509.90" y="374.40" font-size="9.80" text-anchor="middle" textLength="44.31" lengthAdjust="spacingAndGlyphs">Mar 2010</text>
<text x="567.90" y="374.40" font-size="9.80" text-anchor="middle" textLength="42.85" lengthAdjust="spacingAndGlyphs">Apr 2010</text>
<text x="623.90" y="374.40" font-size="9.80" text-anchor="middle" textLength="46.00" lengthAdjust="spacingAndGlyphs">May 2010</text>
<text x="681.90" y="374.40" font-size="9.80" text-anchor="middle" textLength="41.29" lengthAdjust="spacingAndGlyphs">Jun 2010</text>
<text x="737.90" y="374.40" font-size="9.80" text-anchor="middle" textLength="37.97" lengthAdjust="spacingAndGlyphs">Jul 2010</text>
<rect x="12.60" y="417.55" width="7.6" height="6.8" fill="#e66266" stroke="#000" stroke-width="1"/>
<text x="24.10" y="424.15" font-size="9.80" text-anchor="start" textLength="26.49" lengthAdjust="spacingAndGlyphs">Other</text>
<rect x="12.60" y="430.55" width="7.6" height="6.8" fill="#a57e81" stroke="#000" stroke-width="1"/>
<text x="24.10" y="437.15" font-size="9.80" text-anchor="start" textLength="29.00" lengthAdjust="spacingAndGlyphs">AGLT2</text>
<rect x="12.60" y="443.55" width="7.6" height="6.8" fill="#cc99ff" stroke="#000" stroke-width="1"/>
<text x="24.10" y="450.15" font-size="9.80" text-anchor="start" textLength="28.66" lengthAdjust="spacingAndGlyphs">GLOW</text>
<rect x="12.60" y="456.55" width="7.6" height="6.8" fill="#fff8a9" stroke="#000" stroke-width="1"/>
<text x="24.10" y="463.15" font-size="9.80" text-anchor="start" textLength="44.01" lengthAdjust="spacingAndGlyphs">Nebraska</text>
<rect x="169.30" y="417.55" width="7.6" height="6.8" fill="#fff8a9" stroke="#000" stroke-width="1"/>
<text x="180.80" y="424.15" font-size="9.80" text-anchor="start" textLength="100.81" lengthAdjust="spacingAndGlyphs">USCMS-FNAL-WC1-CE</text>
<rect x="169.30" y="430.55" width="7.6" height="6.8" fill="#baceac" stroke="#000" stroke-width="1"/>
<text x="180.80" y="437.15" font-size="9.80" text-anchor="start" textLength="78.76" lengthAdjust="spacingAndGlyphs">FNAL_CDFOSG_1</text>
<rect x="169.30" y="443.55" width="7.6" height="6.8" fill="#ffcc99" stroke="#000" stroke-width="1"/>
<text x="180.80" y="450.15" font-size="9.80" text-anchor="start" textLength="41.65" lengthAdjust="spacingAndGlyphs">MIT_CMS</text>
<rect x="169.30" y="456.55" width="7.6" height="6.8" fill="#7bea81" stroke="#000" stroke-width="1"/>
<text x="180.80" y="463.15" font-size="9.80" text-anchor="start" textLength="46.92" lengthAdjust="spacingAndGlyphs">MWT2_UC</text>
<rect x="326.00" y="417.55" width="7.6" height="6.8" fill="#7bea81" stroke="#000" stroke-width="1"/>
<text x="337.50" y="424.15" font-size="9.80" text-anchor="start" textLength="62.92" lengthAdjust="spacingAndGlyphs">BNL_ATLAS_1</text>
<rect x="326.00" y="430.55" width="7.6" height="6.8" fill="#00ccff" stroke="#000" stroke-width="1"/>
<text x="337.50" y="437.15" font-size="9.80" text-anchor="start" textLength="61.26" lengthAdjust="spacingAndGlyphs">Purdue-RCAC</text>
<rect x="326.00" y="443.55" width="7.6" height="6.8" fill="#3366ff" stroke="#000" stroke-width="1"/>
<text x="337.50" y="450.15" font-size="9.80" text-anchor="start" textLength="78.76" lengthAdjust="spacingAndGlyphs">FNAL_CDFOSG_3</text>
<rect x="326.00" y="456.55" width="7.6" height="6.8" fill="#8d4dff" stroke="#000" stroke-width="1"/>
<text x="337.50" y="463.15" font-size="9.80" text-anchor="start" textLength="78.76" lengthAdjust="spacingAndGlyphs">FNAL_CDFOSG_0</text>
<rect x="482.70" y="417.55" width="7.6" height="6.8" fill="#8d4dff" stroke="#000" stroke-width="1"/>
<text x="494.20" y="424.15" font-size="9.80" text-anchor="start" textLength="84.74" lengthAdjust="spacingAndGlyphs">OU_OSCER_ATLAS</text>
<rect x="482.70" y="430.55" width="7.6" height="6.8" fill="#ccffff" stroke="#000" stroke-width="1"/>
<text x="494.20" y="437.15" font-size="9.80" text-anchor="start" textLength="92.99" lengthAdjust="spacingAndGlyphs">FNAL_DZEROOSG_2</text>
<rect x="482.70" y="443.55" width="7.6" height="6.8" fill="#33cccc" stroke="#000" stroke-width="1"/>
<text x="494.20" y="450.15" font-size="9.80" text-anchor="start" textLength="78.76" lengthAdjust="spacingAndGlyphs">FNAL_CDFOSG_2</text>
<rect x="482.70" y="456.55" width="7.6" height="6.8" fill="#ffbc71" stroke="#000" stroke-width="1"/>
<text x="494.20" y="463.15" font-size="9.80" text-anchor="start" textLength="78.76" lengthAdjust="spacingAndGlyphs">FNAL_CDFOSG_4</text>
<rect x="639.40" y="417.55" width="7.6" height="6.8" fill="#ffbc71" stroke="#000" stroke-width="1"/>
<text x="650.90" y="424.15" font-size="9.80" text-anchor="start" textLength="28.05" lengthAdjust="spacingAndGlyphs">Firefly</text>
<rect x="639.40" y="430.55" width="7.6" height="6.8" fill="#ff99cc" stroke="#000" stroke-width="1"/>
<text x="650.90" y="437.15" font-size="9.80" text-anchor="start" textLength="20.86" lengthAdjust="spacingAndGlyphs">WT2</text>
<rect x="639.40" y="443.55" width="7.6" height="6.8" fill="#e66266" stroke="#000" stroke-width="1"/>
<text x="650.90" y="450.15" font-size="9.80" text-anchor="start" textLength="38.09" lengthAdjust="spacingAndGlyphs">UCSDT2</text>
<rect x="639.40" y="456.55" width="7.6" height="6.8" fill="#a57e81" stroke="#000" stroke-width="1"/>
<text x="650.90" y="463.15" font-size="9.80" text-anchor="start" textLength="56.42" lengthAdjust="spacingAndGlyphs">CIT_CMS_T2</text>
<text x="399.50" y="488.60" font-size="9.80" text-anchor="middle" textLength="412.20" lengthAdjust="spacingAndGlyphs">Maximum: 6,871,591 , Minimum: 1,866,854 , Average: 5,303,604 , Current: 4,598,818</text>
</g>
</svg>
</body></html>
